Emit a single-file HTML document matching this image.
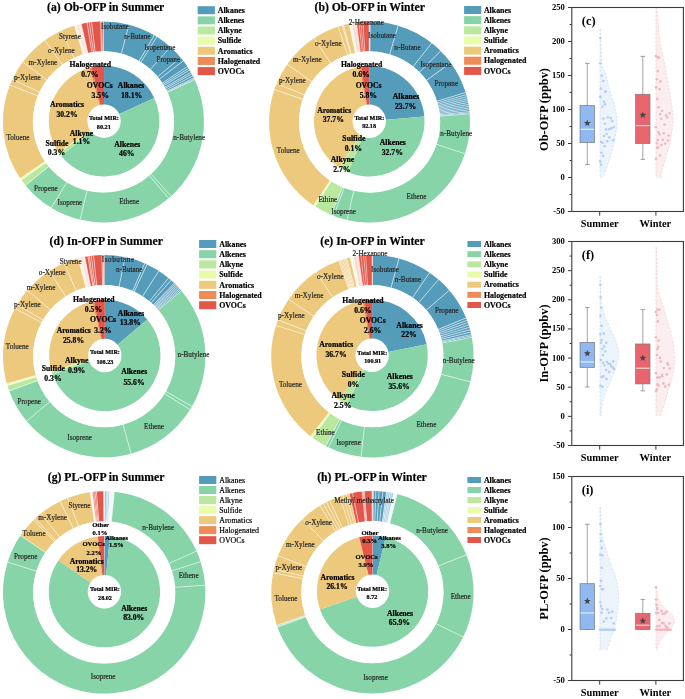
<!DOCTYPE html>
<html><head><meta charset="utf-8"><style>
html,body{margin:0;padding:0;background:#fff;}
svg{display:block;font-family:"Liberation Serif",serif;will-change:transform;}
</style></head><body>
<svg width="685" height="699" viewBox="0 0 685 699">
<rect width="685" height="699" fill="#fff"/>
<path d="M103.45 21.4A100.5 100.5 0 0 1 129.21 24.76L121.48 53.9A70.3515 70.3515 0 0 0 103.45 51.55Z" fill="#559cbb"/>
<path d="M128.95 24.69A100.5 100.5 0 0 1 154.53 35.35L139.21 61.31A70.3515 70.3515 0 0 0 121.3 53.85Z" fill="#559cbb"/>
<path d="M154.31 35.22A100.5 100.5 0 0 1 157.08 36.9L140.99 62.4A70.3515 70.3515 0 0 0 139.05 61.22Z" fill="#559cbb"/>
<path d="M156.86 36.76A100.5 100.5 0 0 1 170.63 47.16L150.48 69.58A70.3515 70.3515 0 0 0 140.83 62.3Z" fill="#559cbb"/>
<path d="M170.44 46.98A100.5 100.5 0 0 1 180.83 57.77L157.62 77.01A70.3515 70.3515 0 0 0 150.34 69.45Z" fill="#559cbb"/>
<path d="M180.66 57.57A100.5 100.5 0 0 1 183.45 61.07L159.45 79.32A70.3515 70.3515 0 0 0 157.5 76.87Z" fill="#559cbb"/>
<path d="M183.29 60.86A100.5 100.5 0 0 1 187.5 66.8L162.28 83.33A70.3515 70.3515 0 0 0 159.34 79.17Z" fill="#559cbb"/>
<path d="M187.35 66.58A100.5 100.5 0 0 1 188.63 68.57L163.08 84.57A70.3515 70.3515 0 0 0 162.18 83.17Z" fill="#559cbb"/>
<path d="M188.49 68.35A100.5 100.5 0 0 1 189.64 70.21L163.78 85.72A70.3515 70.3515 0 0 0 162.98 84.41Z" fill="#559cbb"/>
<path d="M189.5 69.99A100.5 100.5 0 0 1 191.05 72.64L164.77 87.42A70.3515 70.3515 0 0 0 163.69 85.56Z" fill="#559cbb"/>
<path d="M190.92 72.41A100.5 100.5 0 0 1 191.9 74.18L165.36 88.49A70.3515 70.3515 0 0 0 164.68 87.26Z" fill="#559cbb"/>
<path d="M191.77 73.95A100.5 100.5 0 0 1 192.96 76.2L166.11 89.91A70.3515 70.3515 0 0 0 165.28 88.33Z" fill="#559cbb"/>
<path d="M192.84 75.96A100.5 100.5 0 0 1 193.97 78.24L166.82 91.34A70.3515 70.3515 0 0 0 166.02 89.74Z" fill="#559cbb"/>
<path d="M193.86 78A100.5 100.5 0 0 1 194.42 79.19L167.13 92A70.3515 70.3515 0 0 0 166.74 91.17Z" fill="#559cbb"/>
<path d="M194.31 78.95A100.5 100.5 0 0 1 194.79 79.98L167.39 92.56A70.3515 70.3515 0 0 0 167.05 91.83Z" fill="#559cbb"/>
<path d="M194.68 79.75A100.5 100.5 0 0 1 171.02 196.29L150.75 173.98A70.3515 70.3515 0 0 0 167.31 92.39Z" fill="#86d4a7"/>
<path d="M171.22 196.11A100.5 100.5 0 0 1 168.52 198.49L149 175.52A70.3515 70.3515 0 0 0 150.89 173.85Z" fill="#86d4a7"/>
<path d="M168.72 198.32A100.5 100.5 0 0 1 79.9 219.6L86.97 190.29A70.3515 70.3515 0 0 0 149.14 175.4Z" fill="#86d4a7"/>
<path d="M80.16 219.66A100.5 100.5 0 0 1 51.16 207.73L66.85 181.98A70.3515 70.3515 0 0 0 87.15 190.34Z" fill="#86d4a7"/>
<path d="M51.39 207.86A100.5 100.5 0 0 1 25.4 185.21L48.82 166.22A70.3515 70.3515 0 0 0 67.01 182.08Z" fill="#86d4a7"/>
<path d="M25.57 185.42A100.5 100.5 0 0 1 21.28 179.76L45.93 162.4A70.3515 70.3515 0 0 0 48.93 166.36Z" fill="#bbe89f"/>
<path d="M21.43 179.97A100.5 100.5 0 0 1 20.18 178.17L45.16 161.29A70.3515 70.3515 0 0 0 46.03 162.55Z" fill="#e9fda9"/>
<path d="M20.33 178.39A100.5 100.5 0 0 1 10.04 84.82L38.06 95.94A70.3515 70.3515 0 0 0 45.26 161.44Z" fill="#ecc97d"/>
<path d="M9.94 85.07A100.5 100.5 0 0 1 12.48 79.19L39.77 92A70.3515 70.3515 0 0 0 37.99 96.12Z" fill="#ecc97d"/>
<path d="M12.37 79.43A100.5 100.5 0 0 1 22.92 61.77L47.08 79.81A70.3515 70.3515 0 0 0 39.69 92.17Z" fill="#ecc97d"/>
<path d="M22.77 61.98A100.5 100.5 0 0 1 45.02 40.13L62.55 64.66A70.3515 70.3515 0 0 0 46.97 79.95Z" fill="#ecc97d"/>
<path d="M44.8 40.29A100.5 100.5 0 0 1 61.69 30.49L74.22 57.91A70.3515 70.3515 0 0 0 62.4 64.77Z" fill="#ecc97d"/>
<path d="M61.45 30.59A100.5 100.5 0 0 1 74.82 25.56L83.41 54.46A70.3515 70.3515 0 0 0 74.05 57.99Z" fill="#ecc97d"/>
<path d="M74.57 25.64A100.5 100.5 0 0 1 77.35 24.85L85.18 53.96A70.3515 70.3515 0 0 0 83.23 54.52Z" fill="#fbf3e4"/>
<path d="M77.1 24.92A100.5 100.5 0 0 1 79.39 24.32L86.61 53.59A70.3515 70.3515 0 0 0 85 54.01Z" fill="#f9e4d8"/>
<path d="M79.14 24.39A100.5 100.5 0 0 1 81.44 23.84L88.04 53.26A70.3515 70.3515 0 0 0 86.43 53.64Z" fill="#fbede6"/>
<path d="M81.18 23.9A100.5 100.5 0 0 1 87.3 22.71L92.14 52.46A70.3515 70.3515 0 0 0 87.86 53.3Z" fill="#e2574a"/>
<path d="M87.04 22.75A100.5 100.5 0 0 1 89.55 22.37L93.72 52.22A70.3515 70.3515 0 0 0 91.96 52.49Z" fill="#e2574a"/>
<path d="M89.29 22.4A100.5 100.5 0 0 1 91.81 22.08L95.3 52.02A70.3515 70.3515 0 0 0 93.54 52.25Z" fill="#e2574a"/>
<path d="M91.55 22.11A100.5 100.5 0 0 1 100.91 21.43L101.67 51.57A70.3515 70.3515 0 0 0 95.12 52.04Z" fill="#e2574a"/>
<path d="M100.64 21.44A100.5 100.5 0 0 1 101.96 21.41L102.41 51.56A70.3515 70.3515 0 0 0 101.49 51.58Z" fill="#e2574a"/>
<path d="M101.7 21.42A100.5 100.5 0 0 1 103.71 21.4L103.63 51.55A70.3515 70.3515 0 0 0 102.22 51.56Z" fill="#e2574a"/>
<line x1="103.45" y1="52.25" x2="103.45" y2="20.4" stroke="#fff" stroke-width="0.6"/>
<line x1="121.12" y1="54.53" x2="129.21" y2="23.72" stroke="#fff" stroke-width="0.6"/>
<line x1="138.7" y1="61.82" x2="154.81" y2="34.35" stroke="#fff" stroke-width="0.6"/>
<line x1="140.46" y1="62.9" x2="157.39" y2="35.92" stroke="#fff" stroke-width="0.6"/>
<line x1="149.87" y1="69.98" x2="171.1" y2="46.23" stroke="#fff" stroke-width="0.6"/>
<line x1="156.96" y1="77.32" x2="181.43" y2="56.93" stroke="#fff" stroke-width="0.6"/>
<line x1="158.78" y1="79.6" x2="184.08" y2="60.25" stroke="#fff" stroke-width="0.6"/>
<line x1="161.6" y1="83.56" x2="188.19" y2="66.03" stroke="#fff" stroke-width="0.6"/>
<line x1="162.39" y1="84.78" x2="189.34" y2="67.81" stroke="#fff" stroke-width="0.6"/>
<line x1="163.09" y1="85.92" x2="190.36" y2="69.47" stroke="#fff" stroke-width="0.6"/>
<line x1="164.07" y1="87.6" x2="191.79" y2="71.92" stroke="#fff" stroke-width="0.6"/>
<line x1="164.66" y1="88.67" x2="192.65" y2="73.47" stroke="#fff" stroke-width="0.6"/>
<line x1="165.4" y1="90.06" x2="193.73" y2="75.5" stroke="#fff" stroke-width="0.6"/>
<line x1="166.11" y1="91.48" x2="194.76" y2="77.56" stroke="#fff" stroke-width="0.6"/>
<line x1="166.42" y1="92.13" x2="195.21" y2="78.52" stroke="#fff" stroke-width="0.6"/>
<line x1="166.68" y1="92.68" x2="195.59" y2="79.33" stroke="#fff" stroke-width="0.6"/>
<line x1="150.42" y1="173.33" x2="171.89" y2="196.85" stroke="#fff" stroke-width="0.6"/>
<line x1="148.69" y1="174.86" x2="169.37" y2="199.08" stroke="#fff" stroke-width="0.6"/>
<line x1="87.31" y1="189.66" x2="79.93" y2="220.64" stroke="#fff" stroke-width="0.6"/>
<line x1="67.37" y1="181.48" x2="50.87" y2="208.72" stroke="#fff" stroke-width="0.6"/>
<line x1="49.47" y1="165.92" x2="24.79" y2="186.05" stroke="#fff" stroke-width="0.6"/>
<line x1="46.6" y1="162.15" x2="20.61" y2="180.55" stroke="#fff" stroke-width="0.6"/>
<line x1="45.84" y1="161.05" x2="19.5" y2="178.95" stroke="#fff" stroke-width="0.6"/>
<line x1="38.65" y1="96.37" x2="9.01" y2="84.7" stroke="#fff" stroke-width="0.6"/>
<line x1="40.32" y1="92.46" x2="11.46" y2="79" stroke="#fff" stroke-width="0.6"/>
<line x1="47.53" y1="80.37" x2="21.96" y2="61.38" stroke="#fff" stroke-width="0.6"/>
<line x1="62.81" y1="65.34" x2="44.22" y2="39.47" stroke="#fff" stroke-width="0.6"/>
<line x1="74.34" y1="58.62" x2="61.04" y2="29.69" stroke="#fff" stroke-width="0.6"/>
<line x1="83.43" y1="55.19" x2="74.28" y2="24.68" stroke="#fff" stroke-width="0.6"/>
<line x1="88.02" y1="53.98" x2="80.96" y2="22.92" stroke="#fff" stroke-width="0.6"/>
<line x1="92.07" y1="53.18" x2="86.87" y2="21.76" stroke="#fff" stroke-width="0.6"/>
<line x1="93.64" y1="52.94" x2="89.15" y2="21.41" stroke="#fff" stroke-width="0.6"/>
<line x1="95.2" y1="52.74" x2="91.43" y2="21.11" stroke="#fff" stroke-width="0.6"/>
<line x1="101.51" y1="52.28" x2="100.62" y2="20.44" stroke="#fff" stroke-width="0.6"/>
<line x1="102.23" y1="52.26" x2="101.68" y2="20.42" stroke="#fff" stroke-width="0.6"/>
<circle cx="103.45" cy="121.9" r="70.6515" fill="#fff"/>
<path d="M104.05 121.1L104.05 65.83A55.275000000000006 55.275000000000006 0 0 1 154.23 97.91Z" fill="#559cbb"/>
<path d="M104.05 121.1L154.23 97.91A55.275000000000006 55.275000000000006 0 0 1 61.21 156.04Z" fill="#86d4a7"/>
<path d="M104.05 121.1L61.21 156.04A55.275000000000006 55.275000000000006 0 0 1 58.94 153.04Z" fill="#bbe89f"/>
<path d="M104.05 121.1L58.94 153.04A55.275000000000006 55.275000000000006 0 0 1 58.33 152.17Z" fill="#e9fda9"/>
<path d="M104.05 121.1L58.33 152.17A55.275000000000006 55.275000000000006 0 0 1 89.28 67.84Z" fill="#ecc97d"/>
<path d="M104.05 121.1L89.28 67.84A55.275000000000006 55.275000000000006 0 0 1 91.62 67.24Z" fill="#ed8c58"/>
<path d="M104.05 121.1L91.62 67.24A55.275000000000006 55.275000000000006 0 0 1 104.05 65.83Z" fill="#e2574a"/>
<circle cx="104.05" cy="121.1" r="16.7" fill="#fff"/>
<text x="115" y="28.75" font-size="7.2" text-anchor="middle" fill="#262626" stroke="#262626" stroke-width="0.18">Isobutane</text>
<text x="137.4" y="39.25" font-size="7.2" text-anchor="middle" fill="#262626" stroke="#262626" stroke-width="0.18">n-Butane</text>
<text x="159.8" y="50.45" font-size="7.2" text-anchor="middle" fill="#262626" stroke="#262626" stroke-width="0.18">Isopentane</text>
<text x="168.3" y="62.45" font-size="7.2" text-anchor="middle" fill="#262626" stroke="#262626" stroke-width="0.18">Propane</text>
<text x="189.2" y="140.25" font-size="7.2" text-anchor="middle" fill="#262626" stroke="#262626" stroke-width="0.18">n-Butylene</text>
<text x="129.2" y="204.45" font-size="7.2" text-anchor="middle" fill="#262626" stroke="#262626" stroke-width="0.18">Ethene</text>
<text x="69.9" y="205.25" font-size="7.2" text-anchor="middle" fill="#262626" stroke="#262626" stroke-width="0.18">Isoprene</text>
<text x="45.9" y="190.85" font-size="7.2" text-anchor="middle" fill="#262626" stroke="#262626" stroke-width="0.18">Propene</text>
<text x="17.9" y="139.95" font-size="7.2" text-anchor="middle" fill="#262626" stroke="#262626" stroke-width="0.18">Toluene</text>
<text x="27.3" y="80.15" font-size="7.2" text-anchor="middle" fill="#262626" stroke="#262626" stroke-width="0.18">p-Xylene</text>
<text x="42.8" y="64.95" font-size="7.2" text-anchor="middle" fill="#262626" stroke="#262626" stroke-width="0.18">m-Xylene</text>
<text x="61.3" y="52.85" font-size="7.2" text-anchor="middle" fill="#262626" stroke="#262626" stroke-width="0.18">o-Xylene</text>
<text x="69.9" y="39.25" font-size="7.2" text-anchor="middle" fill="#262626" stroke="#262626" stroke-width="0.18">Styrene</text>
<text x="90.3" y="66.7" font-size="7.7" font-weight="bold" text-anchor="middle" fill="#000" stroke="#000" stroke-width="0.22">Halogenated</text>
<text x="89.8" y="76.7" font-size="7.7" font-weight="bold" text-anchor="middle" fill="#000" stroke="#000" stroke-width="0.22">0.7%</text>
<text x="99.8" y="88.1" font-size="7.7" font-weight="bold" text-anchor="middle" fill="#000" stroke="#000" stroke-width="0.22">OVOCs</text>
<text x="100.2" y="97.6" font-size="7.7" font-weight="bold" text-anchor="middle" fill="#000" stroke="#000" stroke-width="0.22">3.5%</text>
<text x="131.1" y="88.1" font-size="7.7" font-weight="bold" text-anchor="middle" fill="#000" stroke="#000" stroke-width="0.22">Alkanes</text>
<text x="131.6" y="97.6" font-size="7.7" font-weight="bold" text-anchor="middle" fill="#000" stroke="#000" stroke-width="0.22">18.1%</text>
<text x="67" y="107.1" font-size="7.7" font-weight="bold" text-anchor="middle" fill="#000" stroke="#000" stroke-width="0.22">Aromatics</text>
<text x="67" y="116.6" font-size="7.7" font-weight="bold" text-anchor="middle" fill="#000" stroke="#000" stroke-width="0.22">30.2%</text>
<text x="81.5" y="135.6" font-size="7.7" font-weight="bold" text-anchor="middle" fill="#000" stroke="#000" stroke-width="0.22">Alkyne</text>
<text x="81.5" y="144.1" font-size="7.7" font-weight="bold" text-anchor="middle" fill="#000" stroke="#000" stroke-width="0.22">1.1%</text>
<text x="57" y="145.6" font-size="7.7" font-weight="bold" text-anchor="middle" fill="#000" stroke="#000" stroke-width="0.22">Sulfide</text>
<text x="56.5" y="154.9" font-size="7.7" font-weight="bold" text-anchor="middle" fill="#000" stroke="#000" stroke-width="0.22">0.3%</text>
<text x="127.3" y="147" font-size="7.7" font-weight="bold" text-anchor="middle" fill="#000" stroke="#000" stroke-width="0.22">Alkenes</text>
<text x="126.8" y="156.4" font-size="7.7" font-weight="bold" text-anchor="middle" fill="#000" stroke="#000" stroke-width="0.22">46%</text>
<text x="104" y="119.9" font-size="6.2" font-weight="bold" text-anchor="middle" fill="#000" stroke="#000" stroke-width="0.22">Total MIR:</text>
<text x="103.8" y="129.3" font-size="6.2" font-weight="bold" text-anchor="middle" fill="#000" stroke="#000" stroke-width="0.22">80.21</text>
<text x="105.7" y="11.2" font-size="11.7" font-weight="bold" text-anchor="middle" fill="#000" stroke="#000" stroke-width="0.2">(a) Ob-OFP in Summer</text>
<rect x="197.7" y="6.2" width="17.2" height="8" fill="#559cbb"/>
<text x="217.7" y="12.9" font-size="7.9" font-weight="bold" text-anchor="start" fill="#000" stroke="#000" stroke-width="0.18">Alkanes</text>
<rect x="197.7" y="16.35" width="17.2" height="8" fill="#86d4a7"/>
<text x="217.7" y="23.05" font-size="7.9" font-weight="bold" text-anchor="start" fill="#000" stroke="#000" stroke-width="0.18">Alkenes</text>
<rect x="197.7" y="26.5" width="17.2" height="8" fill="#bbe89f"/>
<text x="217.7" y="33.2" font-size="7.9" font-weight="bold" text-anchor="start" fill="#000" stroke="#000" stroke-width="0.18">Alkyne</text>
<rect x="197.7" y="36.65" width="17.2" height="8" fill="#e9fda9"/>
<text x="217.7" y="43.35" font-size="7.9" font-weight="bold" text-anchor="start" fill="#000" stroke="#000" stroke-width="0.18">Sulfide</text>
<rect x="197.7" y="46.8" width="17.2" height="8" fill="#ecc97d"/>
<text x="217.7" y="53.5" font-size="7.9" font-weight="bold" text-anchor="start" fill="#000" stroke="#000" stroke-width="0.18">Aromatics</text>
<rect x="197.7" y="56.95" width="17.2" height="8" fill="#ed8c58"/>
<text x="217.7" y="63.65" font-size="7.9" font-weight="bold" text-anchor="start" fill="#000" stroke="#000" stroke-width="0.18">Halogenated</text>
<rect x="197.7" y="67.1" width="17.2" height="8" fill="#e2574a"/>
<text x="217.7" y="73.8" font-size="7.9" font-weight="bold" text-anchor="start" fill="#000" stroke="#000" stroke-width="0.18">OVOCs</text>
<path d="M370.1 21.5A100.5 100.5 0 0 1 398.37 25.71L389.73 54.6A70.3515 70.3515 0 0 0 369.94 51.65Z" fill="#559cbb"/>
<path d="M398.11 25.64A100.5 100.5 0 0 1 431.93 43.18L413.22 66.83A70.3515 70.3515 0 0 0 389.55 54.55Z" fill="#559cbb"/>
<path d="M431.72 43.02A100.5 100.5 0 0 1 440.82 51.12L419.45 72.38A70.3515 70.3515 0 0 0 413.08 66.71Z" fill="#559cbb"/>
<path d="M440.63 50.94A100.5 100.5 0 0 1 450.82 62.86L426.45 80.6A70.3515 70.3515 0 0 0 419.32 72.25Z" fill="#559cbb"/>
<path d="M450.67 62.64A100.5 100.5 0 0 1 465.7 92.7L436.87 101.49A70.3515 70.3515 0 0 0 426.34 80.45Z" fill="#559cbb"/>
<path d="M465.63 92.45A100.5 100.5 0 0 1 466.34 94.89L437.31 103.02A70.3515 70.3515 0 0 0 436.81 101.31Z" fill="#559cbb"/>
<path d="M466.27 94.64A100.5 100.5 0 0 1 466.89 96.92L437.7 104.44A70.3515 70.3515 0 0 0 437.26 102.84Z" fill="#559cbb"/>
<path d="M466.82 96.67A100.5 100.5 0 0 1 467.39 98.97L438.05 105.88A70.3515 70.3515 0 0 0 437.65 104.27Z" fill="#559cbb"/>
<path d="M467.33 98.71A100.5 100.5 0 0 1 467.82 100.85L438.35 107.19A70.3515 70.3515 0 0 0 438.01 105.7Z" fill="#559cbb"/>
<path d="M467.76 100.59A100.5 100.5 0 0 1 468.21 102.74L438.62 108.52A70.3515 70.3515 0 0 0 438.31 107.01Z" fill="#559cbb"/>
<path d="M468.16 102.48A100.5 100.5 0 0 1 468.56 104.63L438.86 109.84A70.3515 70.3515 0 0 0 438.58 108.34Z" fill="#559cbb"/>
<path d="M468.51 104.38A100.5 100.5 0 0 1 468.87 106.54L439.08 111.18A70.3515 70.3515 0 0 0 438.83 109.66Z" fill="#559cbb"/>
<path d="M468.83 106.28A100.5 100.5 0 0 1 469.13 108.27L439.26 112.39A70.3515 70.3515 0 0 0 439.06 110.99Z" fill="#559cbb"/>
<path d="M469.09 108.01A100.5 100.5 0 0 1 469.35 110.01L439.42 113.61A70.3515 70.3515 0 0 0 439.24 112.21Z" fill="#559cbb"/>
<path d="M469.32 109.75A100.5 100.5 0 0 1 469.55 111.76L439.56 114.83A70.3515 70.3515 0 0 0 439.4 113.43Z" fill="#559cbb"/>
<path d="M469.52 111.49A100.5 100.5 0 0 1 469.66 112.98L439.64 115.69A70.3515 70.3515 0 0 0 439.54 114.65Z" fill="#559cbb"/>
<path d="M469.64 112.72A100.5 100.5 0 0 1 469.75 114.03L439.7 116.42A70.3515 70.3515 0 0 0 439.62 115.5Z" fill="#559cbb"/>
<path d="M469.73 113.77A100.5 100.5 0 0 1 464.85 153.97L436.27 144.38A70.3515 70.3515 0 0 0 439.68 116.24Z" fill="#86d4a7"/>
<path d="M464.93 153.72A100.5 100.5 0 0 1 346.88 219.9L353.68 190.53A70.3515 70.3515 0 0 0 436.32 144.21Z" fill="#86d4a7"/>
<path d="M347.13 219.96A100.5 100.5 0 0 1 333.31 215.73L344.19 187.61A70.3515 70.3515 0 0 0 353.86 190.58Z" fill="#86d4a7"/>
<path d="M333.55 215.82A100.5 100.5 0 0 1 330.87 214.75L342.48 186.93A70.3515 70.3515 0 0 0 344.36 187.68Z" fill="#86d4a7"/>
<path d="M331.11 214.85A100.5 100.5 0 0 1 314.91 206.33L331.31 181.04A70.3515 70.3515 0 0 0 342.65 187Z" fill="#bbe89f"/>
<path d="M315.13 206.48A100.5 100.5 0 0 1 313.3 205.27L330.18 180.29A70.3515 70.3515 0 0 0 331.46 181.14Z" fill="#e9fda9"/>
<path d="M313.52 205.42A100.5 100.5 0 0 1 274.52 89.36L303.03 99.15A70.3515 70.3515 0 0 0 330.33 180.39Z" fill="#ecc97d"/>
<path d="M274.43 89.61A100.5 100.5 0 0 1 276.82 83.3L304.64 94.91A70.3515 70.3515 0 0 0 302.97 99.33Z" fill="#ecc97d"/>
<path d="M276.72 83.54A100.5 100.5 0 0 1 287.4 64.14L312.05 81.5A70.3515 70.3515 0 0 0 304.57 95.08Z" fill="#ecc97d"/>
<path d="M287.25 64.36A100.5 100.5 0 0 1 314.32 38.05L330.89 63.23A70.3515 70.3515 0 0 0 311.94 81.65Z" fill="#ecc97d"/>
<path d="M314.1 38.19A100.5 100.5 0 0 1 338.43 26.45L347.77 55.11A70.3515 70.3515 0 0 0 330.74 63.33Z" fill="#ecc97d"/>
<path d="M338.18 26.53A100.5 100.5 0 0 1 342.46 25.23L350.59 54.26A70.3515 70.3515 0 0 0 347.6 55.17Z" fill="#ecc97d"/>
<path d="M342.21 25.3A100.5 100.5 0 0 1 343.64 24.9L351.42 54.03A70.3515 70.3515 0 0 0 350.41 54.31Z" fill="#ecc97d"/>
<path d="M343.39 24.97A100.5 100.5 0 0 1 349.45 23.54L355.48 53.07A70.3515 70.3515 0 0 0 351.24 54.08Z" fill="#ecc97d"/>
<path d="M349.19 23.59A100.5 100.5 0 0 1 352.38 22.98L357.54 52.69A70.3515 70.3515 0 0 0 355.3 53.11Z" fill="#fdf8f0"/>
<path d="M352.12 23.03A100.5 100.5 0 0 1 354.45 22.64L358.99 52.45A70.3515 70.3515 0 0 0 357.35 52.72Z" fill="#f8dccb"/>
<path d="M354.19 22.68A100.5 100.5 0 0 1 356.71 22.33L360.57 52.23A70.3515 70.3515 0 0 0 358.81 52.48Z" fill="#fae4df"/>
<path d="M356.45 22.36A100.5 100.5 0 0 1 359.15 22.04L362.28 52.03A70.3515 70.3515 0 0 0 360.39 52.25Z" fill="#e2574a"/>
<path d="M358.89 22.07A100.5 100.5 0 0 1 361.07 21.86L363.62 51.9A70.3515 70.3515 0 0 0 362.09 52.05Z" fill="#e2574a"/>
<path d="M360.81 21.88A100.5 100.5 0 0 1 363.17 21.7L365.09 51.79A70.3515 70.3515 0 0 0 363.44 51.92Z" fill="#e2574a"/>
<path d="M362.91 21.72A100.5 100.5 0 0 1 369.31 21.5L369.39 51.65A70.3515 70.3515 0 0 0 364.91 51.8Z" fill="#e2574a"/>
<line x1="369.93" y1="52.35" x2="370.1" y2="20.5" stroke="#fff" stroke-width="0.6"/>
<line x1="389.35" y1="55.22" x2="398.4" y2="24.68" stroke="#fff" stroke-width="0.6"/>
<line x1="412.64" y1="67.26" x2="432.34" y2="42.24" stroke="#fff" stroke-width="0.6"/>
<line x1="418.82" y1="72.75" x2="441.34" y2="50.23" stroke="#fff" stroke-width="0.6"/>
<line x1="425.78" y1="80.86" x2="451.48" y2="62.05" stroke="#fff" stroke-width="0.6"/>
<line x1="436.14" y1="101.52" x2="466.58" y2="92.15" stroke="#fff" stroke-width="0.6"/>
<line x1="436.59" y1="103.04" x2="467.24" y2="94.36" stroke="#fff" stroke-width="0.6"/>
<line x1="436.97" y1="104.44" x2="467.79" y2="96.41" stroke="#fff" stroke-width="0.6"/>
<line x1="437.33" y1="105.86" x2="468.31" y2="98.48" stroke="#fff" stroke-width="0.6"/>
<line x1="437.62" y1="107.16" x2="468.74" y2="100.38" stroke="#fff" stroke-width="0.6"/>
<line x1="437.89" y1="108.47" x2="469.14" y2="102.29" stroke="#fff" stroke-width="0.6"/>
<line x1="438.14" y1="109.79" x2="469.5" y2="104.2" stroke="#fff" stroke-width="0.6"/>
<line x1="438.36" y1="111.1" x2="469.82" y2="106.12" stroke="#fff" stroke-width="0.6"/>
<line x1="438.54" y1="112.31" x2="470.08" y2="107.87" stroke="#fff" stroke-width="0.6"/>
<line x1="438.7" y1="113.51" x2="470.31" y2="109.63" stroke="#fff" stroke-width="0.6"/>
<line x1="438.84" y1="114.72" x2="470.51" y2="111.39" stroke="#fff" stroke-width="0.6"/>
<line x1="438.92" y1="115.57" x2="470.64" y2="112.62" stroke="#fff" stroke-width="0.6"/>
<line x1="438.99" y1="116.29" x2="470.73" y2="113.68" stroke="#fff" stroke-width="0.6"/>
<line x1="435.66" y1="143.99" x2="465.88" y2="154.04" stroke="#fff" stroke-width="0.6"/>
<line x1="354.02" y1="189.89" x2="346.91" y2="220.94" stroke="#fff" stroke-width="0.6"/>
<line x1="344.61" y1="187.03" x2="333.2" y2="216.76" stroke="#fff" stroke-width="0.6"/>
<line x1="342.92" y1="186.35" x2="330.73" y2="215.77" stroke="#fff" stroke-width="0.6"/>
<line x1="331.84" y1="180.55" x2="314.59" y2="207.32" stroke="#fff" stroke-width="0.6"/>
<line x1="330.72" y1="179.81" x2="312.96" y2="206.25" stroke="#fff" stroke-width="0.6"/>
<line x1="303.63" y1="99.55" x2="273.49" y2="89.29" stroke="#fff" stroke-width="0.6"/>
<line x1="305.22" y1="95.35" x2="275.8" y2="83.16" stroke="#fff" stroke-width="0.6"/>
<line x1="312.51" y1="82.05" x2="286.43" y2="63.78" stroke="#fff" stroke-width="0.6"/>
<line x1="331.13" y1="63.92" x2="313.55" y2="37.36" stroke="#fff" stroke-width="0.6"/>
<line x1="347.82" y1="55.83" x2="337.87" y2="25.58" stroke="#fff" stroke-width="0.6"/>
<line x1="350.61" y1="54.98" x2="341.93" y2="24.33" stroke="#fff" stroke-width="0.6"/>
<line x1="351.43" y1="54.75" x2="343.13" y2="24" stroke="#fff" stroke-width="0.6"/>
<line x1="355.45" y1="53.8" x2="348.99" y2="22.61" stroke="#fff" stroke-width="0.6"/>
<line x1="360.48" y1="52.94" x2="356.32" y2="21.37" stroke="#fff" stroke-width="0.45"/>
<line x1="362.17" y1="52.74" x2="358.78" y2="21.07" stroke="#fff" stroke-width="0.45"/>
<line x1="363.5" y1="52.61" x2="360.72" y2="20.89" stroke="#fff" stroke-width="0.45"/>
<line x1="364.95" y1="52.5" x2="362.84" y2="20.72" stroke="#fff" stroke-width="0.45"/>
<line x1="369.21" y1="52.35" x2="369.04" y2="20.5" stroke="#fff" stroke-width="0.45"/>
<circle cx="369.57" cy="122" r="70.6515" fill="#fff"/>
<path d="M369.27 121.2L369.27 65.92A55.275000000000006 55.275000000000006 0 0 1 424.33 116.38Z" fill="#559cbb"/>
<path d="M369.27 121.2L424.33 116.38A55.275000000000006 55.275000000000006 0 0 1 348.12 172.27Z" fill="#86d4a7"/>
<path d="M369.27 121.2L348.12 172.27A55.275000000000006 55.275000000000006 0 0 1 339.33 167.66Z" fill="#bbe89f"/>
<path d="M369.27 121.2L339.33 167.66A55.275000000000006 55.275000000000006 0 0 1 338.92 167.4Z" fill="#e9fda9"/>
<path d="M369.27 121.2L338.92 167.4A55.275000000000006 55.275000000000006 0 0 1 359.48 66.8Z" fill="#ecc97d"/>
<path d="M369.27 121.2L359.48 66.8A55.275000000000006 55.275000000000006 0 0 1 361.1 66.53Z" fill="#ed8c58"/>
<path d="M369.27 121.2L361.1 66.53A55.275000000000006 55.275000000000006 0 0 1 369.27 65.92Z" fill="#e2574a"/>
<circle cx="369.27" cy="121.2" r="16.7" fill="#fff"/>
<text x="366.3" y="24.75" font-size="7.2" text-anchor="middle" fill="#262626" stroke="#262626" stroke-width="0.18">2-Hexanone</text>
<text x="382" y="37.85" font-size="7.2" text-anchor="middle" fill="#262626" stroke="#262626" stroke-width="0.18">Isobutane</text>
<text x="407.5" y="49.65" font-size="7.2" text-anchor="middle" fill="#262626" stroke="#262626" stroke-width="0.18">n-Butane</text>
<text x="436" y="67.35" font-size="7.2" text-anchor="middle" fill="#262626" stroke="#262626" stroke-width="0.18">Isopentane</text>
<text x="446.3" y="85.75" font-size="7.2" text-anchor="middle" fill="#262626" stroke="#262626" stroke-width="0.18">Propane</text>
<text x="456.3" y="135.75" font-size="7.2" text-anchor="middle" fill="#262626" stroke="#262626" stroke-width="0.18">n-Butylene</text>
<text x="416.6" y="198.55" font-size="7.2" text-anchor="middle" fill="#262626" stroke="#262626" stroke-width="0.18">Ethene</text>
<text x="343.7" y="213.75" font-size="7.2" text-anchor="middle" fill="#262626" stroke="#262626" stroke-width="0.18">Isoprene</text>
<text x="327.8" y="201.55" font-size="7.2" text-anchor="middle" fill="#262626" stroke="#262626" stroke-width="0.18">Ethine</text>
<text x="288.3" y="152.75" font-size="7.2" text-anchor="middle" fill="#262626" stroke="#262626" stroke-width="0.18">Toluene</text>
<text x="292.3" y="83.35" font-size="7.2" text-anchor="middle" fill="#262626" stroke="#262626" stroke-width="0.18">p-Xylene</text>
<text x="307.3" y="62.45" font-size="7.2" text-anchor="middle" fill="#262626" stroke="#262626" stroke-width="0.18">m-Xylene</text>
<text x="328.3" y="46.45" font-size="7.2" text-anchor="middle" fill="#262626" stroke="#262626" stroke-width="0.18">o-Xylene</text>
<text x="361.6" y="66.6" font-size="7.7" font-weight="bold" text-anchor="middle" fill="#000" stroke="#000" stroke-width="0.22">Halogenated</text>
<text x="361.1" y="76.7" font-size="7.7" font-weight="bold" text-anchor="middle" fill="#000" stroke="#000" stroke-width="0.22">0.6%</text>
<text x="368.6" y="87.7" font-size="7.7" font-weight="bold" text-anchor="middle" fill="#000" stroke="#000" stroke-width="0.22">OVOCs</text>
<text x="368.4" y="97.6" font-size="7.7" font-weight="bold" text-anchor="middle" fill="#000" stroke="#000" stroke-width="0.22">5.8%</text>
<text x="406" y="99.1" font-size="7.7" font-weight="bold" text-anchor="middle" fill="#000" stroke="#000" stroke-width="0.22">Alkanes</text>
<text x="405.6" y="109" font-size="7.7" font-weight="bold" text-anchor="middle" fill="#000" stroke="#000" stroke-width="0.22">23.7%</text>
<text x="334.2" y="112.8" font-size="7.7" font-weight="bold" text-anchor="middle" fill="#000" stroke="#000" stroke-width="0.22">Aromatics</text>
<text x="333.3" y="122.3" font-size="7.7" font-weight="bold" text-anchor="middle" fill="#000" stroke="#000" stroke-width="0.22">37.7%</text>
<text x="353.9" y="140.9" font-size="7.7" font-weight="bold" text-anchor="middle" fill="#000" stroke="#000" stroke-width="0.22">Sulfide</text>
<text x="353.4" y="150.7" font-size="7.7" font-weight="bold" text-anchor="middle" fill="#000" stroke="#000" stroke-width="0.22">0.1%</text>
<text x="392.8" y="145.1" font-size="7.7" font-weight="bold" text-anchor="middle" fill="#000" stroke="#000" stroke-width="0.22">Alkenes</text>
<text x="392.3" y="154.6" font-size="7.7" font-weight="bold" text-anchor="middle" fill="#000" stroke="#000" stroke-width="0.22">32.7%</text>
<text x="342.5" y="162.1" font-size="7.7" font-weight="bold" text-anchor="middle" fill="#000" stroke="#000" stroke-width="0.22">Alkyne</text>
<text x="341.8" y="171.6" font-size="7.7" font-weight="bold" text-anchor="middle" fill="#000" stroke="#000" stroke-width="0.22">2.7%</text>
<text x="369.4" y="119.9" font-size="6.2" font-weight="bold" text-anchor="middle" fill="#000" stroke="#000" stroke-width="0.22">Total MIR:</text>
<text x="369.1" y="128.2" font-size="6.2" font-weight="bold" text-anchor="middle" fill="#000" stroke="#000" stroke-width="0.22">92.18</text>
<text x="369.7" y="11.2" font-size="11.7" font-weight="bold" text-anchor="middle" fill="#000" stroke="#000" stroke-width="0.2">(b) Ob-OFP in Winter</text>
<rect x="464.1" y="6" width="17.2" height="8" fill="#559cbb"/>
<text x="483.9" y="12.7" font-size="7.9" font-weight="bold" text-anchor="start" fill="#000" stroke="#000" stroke-width="0.18">Alkanes</text>
<rect x="464.1" y="16.15" width="17.2" height="8" fill="#86d4a7"/>
<text x="483.9" y="22.85" font-size="7.9" font-weight="bold" text-anchor="start" fill="#000" stroke="#000" stroke-width="0.18">Alkenes</text>
<rect x="464.1" y="26.3" width="17.2" height="8" fill="#bbe89f"/>
<text x="483.9" y="33" font-size="7.9" font-weight="bold" text-anchor="start" fill="#000" stroke="#000" stroke-width="0.18">Alkyne</text>
<rect x="464.1" y="36.45" width="17.2" height="8" fill="#e9fda9"/>
<text x="483.9" y="43.15" font-size="7.9" font-weight="bold" text-anchor="start" fill="#000" stroke="#000" stroke-width="0.18">Sulfide</text>
<rect x="464.1" y="46.6" width="17.2" height="8" fill="#ecc97d"/>
<text x="483.9" y="53.3" font-size="7.9" font-weight="bold" text-anchor="start" fill="#000" stroke="#000" stroke-width="0.18">Aromatics</text>
<rect x="464.1" y="56.75" width="17.2" height="8" fill="#ed8c58"/>
<text x="483.9" y="63.45" font-size="7.9" font-weight="bold" text-anchor="start" fill="#000" stroke="#000" stroke-width="0.18">Halogenated</text>
<rect x="464.1" y="66.9" width="17.2" height="8" fill="#e2574a"/>
<text x="483.9" y="73.6" font-size="7.9" font-weight="bold" text-anchor="start" fill="#000" stroke="#000" stroke-width="0.18">OVOCs</text>
<path d="M104.2 254.9A101.2 101.2 0 0 1 125.5 257.17L119.11 286.84A70.8436 70.8436 0 0 0 104.2 285.26Z" fill="#559cbb"/>
<path d="M125.24 257.11A101.2 101.2 0 0 1 144.96 263.47L132.73 291.26A70.8436 70.8436 0 0 0 118.93 286.8Z" fill="#559cbb"/>
<path d="M144.72 263.36A101.2 101.2 0 0 1 147.21 264.49L134.31 291.97A70.8436 70.8436 0 0 0 132.56 291.18Z" fill="#559cbb"/>
<path d="M146.97 264.38A101.2 101.2 0 0 1 159.1 271.08L142.63 296.58A70.8436 70.8436 0 0 0 134.14 291.89Z" fill="#559cbb"/>
<path d="M158.87 270.94A101.2 101.2 0 0 1 168.78 278.18L149.41 301.55A70.8436 70.8436 0 0 0 142.47 296.48Z" fill="#559cbb"/>
<path d="M168.57 278.01A101.2 101.2 0 0 1 171.32 280.36L151.19 303.08A70.8436 70.8436 0 0 0 149.26 301.44Z" fill="#559cbb"/>
<path d="M171.12 280.19A101.2 101.2 0 0 1 174.44 283.24L153.37 305.1A70.8436 70.8436 0 0 0 151.05 302.96Z" fill="#559cbb"/>
<path d="M174.24 283.06A101.2 101.2 0 0 1 175.37 284.15L154.02 305.73A70.8436 70.8436 0 0 0 153.23 304.97Z" fill="#559cbb"/>
<path d="M175.18 283.97A101.2 101.2 0 0 1 176.29 285.07L154.66 306.38A70.8436 70.8436 0 0 0 153.89 305.6Z" fill="#559cbb"/>
<path d="M176.1 284.89A101.2 101.2 0 0 1 177.2 286.01L155.3 307.03A70.8436 70.8436 0 0 0 154.53 306.25Z" fill="#559cbb"/>
<path d="M177.01 285.82A101.2 101.2 0 0 1 178.09 286.95L155.93 307.69A70.8436 70.8436 0 0 0 155.17 306.9Z" fill="#559cbb"/>
<path d="M177.91 286.76A101.2 101.2 0 0 1 178.98 287.91L156.55 308.36A70.8436 70.8436 0 0 0 155.8 307.56Z" fill="#559cbb"/>
<path d="M178.8 287.71A101.2 101.2 0 0 1 179.85 288.88L157.16 309.04A70.8436 70.8436 0 0 0 156.42 308.23Z" fill="#559cbb"/>
<path d="M179.67 288.68A101.2 101.2 0 0 1 180.71 289.86L157.76 309.73A70.8436 70.8436 0 0 0 157.03 308.9Z" fill="#559cbb"/>
<path d="M180.53 289.66A101.2 101.2 0 0 1 181.55 290.85L158.35 310.42A70.8436 70.8436 0 0 0 157.64 309.59Z" fill="#559cbb"/>
<path d="M181.38 290.64A101.2 101.2 0 0 1 191.89 406.62L165.58 391.47A70.8436 70.8436 0 0 0 158.23 310.28Z" fill="#86d4a7"/>
<path d="M192.02 406.39A101.2 101.2 0 0 1 189.98 409.8L164.25 393.69A70.8436 70.8436 0 0 0 165.68 391.31Z" fill="#86d4a7"/>
<path d="M190.12 409.58A101.2 101.2 0 0 1 130.82 453.74L122.83 424.45A70.8436 70.8436 0 0 0 164.34 393.54Z" fill="#86d4a7"/>
<path d="M131.07 453.67A101.2 101.2 0 0 1 26.51 420.95L49.81 401.5A70.8436 70.8436 0 0 0 123.01 424.4Z" fill="#86d4a7"/>
<path d="M26.68 421.15A101.2 101.2 0 0 1 9.13 390.8L37.65 380.39A70.8436 70.8436 0 0 0 49.93 401.64Z" fill="#86d4a7"/>
<path d="M9.22 391.04A101.2 101.2 0 0 1 7.29 385.27L36.36 376.52A70.8436 70.8436 0 0 0 37.71 380.56Z" fill="#bbe89f"/>
<path d="M7.37 385.52A101.2 101.2 0 0 1 6.75 383.4L35.98 375.21A70.8436 70.8436 0 0 0 36.42 376.69Z" fill="#e9fda9"/>
<path d="M6.82 383.65A101.2 101.2 0 0 1 15.05 308.2L41.79 322.57A70.8436 70.8436 0 0 0 36.03 375.39Z" fill="#ecc97d"/>
<path d="M14.93 308.43A101.2 101.2 0 0 1 17.14 304.51L43.25 319.98A70.8436 70.8436 0 0 0 41.71 322.73Z" fill="#ecc97d"/>
<path d="M17 304.74A101.2 101.2 0 0 1 27.53 290.04L50.53 309.86A70.8436 70.8436 0 0 0 43.16 320.14Z" fill="#ecc97d"/>
<path d="M27.36 290.24A101.2 101.2 0 0 1 49.6 270.89L65.98 296.45A70.8436 70.8436 0 0 0 50.41 310Z" fill="#ecc97d"/>
<path d="M49.38 271.03A101.2 101.2 0 0 1 64.41 263.05L76.35 290.96A70.8436 70.8436 0 0 0 65.82 296.55Z" fill="#ecc97d"/>
<path d="M64.17 263.15A101.2 101.2 0 0 1 78.43 258.23L86.16 287.59A70.8436 70.8436 0 0 0 76.18 291.03Z" fill="#ecc97d"/>
<path d="M78.18 258.3A101.2 101.2 0 0 1 81.52 257.47L88.32 287.06A70.8436 70.8436 0 0 0 85.98 287.64Z" fill="#fbf3e4"/>
<path d="M81.26 257.53A101.2 101.2 0 0 1 83.59 257.02L89.77 286.74A70.8436 70.8436 0 0 0 88.14 287.1Z" fill="#f9e4d8"/>
<path d="M83.33 257.07A101.2 101.2 0 0 1 84.98 256.74L90.74 286.55A70.8436 70.8436 0 0 0 89.59 286.78Z" fill="#fbede6"/>
<path d="M84.72 256.79A101.2 101.2 0 0 1 88.11 256.19L92.93 286.16A70.8436 70.8436 0 0 0 90.56 286.58Z" fill="#e2574a"/>
<path d="M87.85 256.23A101.2 101.2 0 0 1 89.5 255.97L93.91 286.01A70.8436 70.8436 0 0 0 92.75 286.19Z" fill="#e2574a"/>
<path d="M89.24 256.01A101.2 101.2 0 0 1 91.43 255.71L95.26 285.82A70.8436 70.8436 0 0 0 93.73 286.03Z" fill="#e2574a"/>
<path d="M91.17 255.74A101.2 101.2 0 0 1 93.71 255.45L96.86 285.64A70.8436 70.8436 0 0 0 95.08 285.85Z" fill="#e2574a"/>
<path d="M93.45 255.47A101.2 101.2 0 0 1 102.17 254.92L102.78 285.27A70.8436 70.8436 0 0 0 96.67 285.66Z" fill="#e2574a"/>
<path d="M101.9 254.93A101.2 101.2 0 0 1 103.58 254.9L103.77 285.26A70.8436 70.8436 0 0 0 102.59 285.27Z" fill="#e2574a"/>
<path d="M103.32 254.9A101.2 101.2 0 0 1 104.46 254.9L104.39 285.26A70.8436 70.8436 0 0 0 103.58 285.26Z" fill="#e2574a"/>
<line x1="104.2" y1="285.96" x2="104.2" y2="253.9" stroke="#fff" stroke-width="0.6"/>
<line x1="118.78" y1="287.49" x2="125.45" y2="256.13" stroke="#fff" stroke-width="0.6"/>
<line x1="132.28" y1="291.82" x2="145.12" y2="262.45" stroke="#fff" stroke-width="0.6"/>
<line x1="133.84" y1="292.53" x2="147.39" y2="263.48" stroke="#fff" stroke-width="0.6"/>
<line x1="142.09" y1="297.07" x2="159.41" y2="270.1" stroke="#fff" stroke-width="0.6"/>
<line x1="148.82" y1="301.98" x2="169.21" y2="277.24" stroke="#fff" stroke-width="0.6"/>
<line x1="150.59" y1="303.48" x2="171.79" y2="279.44" stroke="#fff" stroke-width="0.6"/>
<line x1="152.75" y1="305.47" x2="174.94" y2="282.34" stroke="#fff" stroke-width="0.6"/>
<line x1="153.4" y1="306.1" x2="175.88" y2="283.25" stroke="#fff" stroke-width="0.6"/>
<line x1="154.04" y1="306.74" x2="176.81" y2="284.18" stroke="#fff" stroke-width="0.6"/>
<line x1="154.67" y1="307.39" x2="177.73" y2="285.12" stroke="#fff" stroke-width="0.6"/>
<line x1="155.29" y1="308.04" x2="178.64" y2="286.07" stroke="#fff" stroke-width="0.6"/>
<line x1="155.9" y1="308.7" x2="179.53" y2="287.04" stroke="#fff" stroke-width="0.6"/>
<line x1="156.51" y1="309.37" x2="180.42" y2="288.01" stroke="#fff" stroke-width="0.6"/>
<line x1="157.11" y1="310.05" x2="181.29" y2="289" stroke="#fff" stroke-width="0.6"/>
<line x1="157.7" y1="310.73" x2="182.14" y2="290" stroke="#fff" stroke-width="0.6"/>
<line x1="165.07" y1="390.96" x2="192.89" y2="406.89" stroke="#fff" stroke-width="0.6"/>
<line x1="163.75" y1="393.17" x2="190.96" y2="410.11" stroke="#fff" stroke-width="0.6"/>
<line x1="122.83" y1="423.73" x2="131.34" y2="454.63" stroke="#fff" stroke-width="0.6"/>
<line x1="50.47" y1="401.19" x2="25.91" y2="421.79" stroke="#fff" stroke-width="0.6"/>
<line x1="38.37" y1="380.32" x2="8.29" y2="391.39" stroke="#fff" stroke-width="0.6"/>
<line x1="37.09" y1="376.49" x2="6.41" y2="385.81" stroke="#fff" stroke-width="0.6"/>
<line x1="36.71" y1="375.2" x2="5.86" y2="383.93" stroke="#fff" stroke-width="0.6"/>
<line x1="42.32" y1="323.06" x2="14.05" y2="307.96" stroke="#fff" stroke-width="0.6"/>
<line x1="43.76" y1="320.5" x2="16.14" y2="304.23" stroke="#fff" stroke-width="0.6"/>
<line x1="50.94" y1="310.45" x2="26.6" y2="289.59" stroke="#fff" stroke-width="0.6"/>
<line x1="66.2" y1="297.14" x2="48.84" y2="270.19" stroke="#fff" stroke-width="0.6"/>
<line x1="76.46" y1="291.68" x2="63.78" y2="262.23" stroke="#fff" stroke-width="0.6"/>
<line x1="86.16" y1="288.31" x2="77.92" y2="257.34" stroke="#fff" stroke-width="0.6"/>
<line x1="90.7" y1="287.27" x2="84.52" y2="255.81" stroke="#fff" stroke-width="0.6"/>
<line x1="92.86" y1="286.88" x2="87.68" y2="255.24" stroke="#fff" stroke-width="0.6"/>
<line x1="93.83" y1="286.73" x2="89.09" y2="255.02" stroke="#fff" stroke-width="0.6"/>
<line x1="95.17" y1="286.54" x2="91.04" y2="254.75" stroke="#fff" stroke-width="0.6"/>
<line x1="96.75" y1="286.35" x2="93.34" y2="254.48" stroke="#fff" stroke-width="0.6"/>
<line x1="102.61" y1="285.97" x2="101.88" y2="253.93" stroke="#fff" stroke-width="0.6"/>
<line x1="103.59" y1="285.96" x2="103.31" y2="253.9" stroke="#fff" stroke-width="0.6"/>
<circle cx="104.2" cy="356.1" r="71.14359999999999" fill="#fff"/>
<path d="M104.8 355.5L104.8 299.84A55.660000000000004 55.660000000000004 0 0 1 147.25 319.5Z" fill="#559cbb"/>
<path d="M104.8 355.5L147.25 319.5A55.660000000000004 55.660000000000004 0 1 1 52.56 374.72Z" fill="#86d4a7"/>
<path d="M104.8 355.5L52.56 374.72A55.660000000000004 55.660000000000004 0 0 1 51.54 371.68Z" fill="#bbe89f"/>
<path d="M104.8 355.5L51.54 371.68A55.660000000000004 55.660000000000004 0 0 1 51.24 370.66Z" fill="#e9fda9"/>
<path d="M104.8 355.5L51.24 370.66A55.660000000000004 55.660000000000004 0 0 1 92.37 301.24Z" fill="#ecc97d"/>
<path d="M104.8 355.5L92.37 301.24A55.660000000000004 55.660000000000004 0 0 1 94.08 300.88Z" fill="#ed8c58"/>
<path d="M104.8 355.5L94.08 300.88A55.660000000000004 55.660000000000004 0 0 1 104.8 299.84Z" fill="#e2574a"/>
<circle cx="104.8" cy="355.5" r="16.7" fill="#fff"/>
<text x="118.2" y="261.6" font-size="7.2" text-anchor="middle" fill="#262626" stroke="#262626" stroke-width="0.18" letter-spacing="0.55">Isobutane</text>
<text x="129.3" y="271.65" font-size="7.2" text-anchor="middle" fill="#262626" stroke="#262626" stroke-width="0.18">n-Butane</text>
<text x="193.5" y="356.95" font-size="7.2" text-anchor="middle" fill="#262626" stroke="#262626" stroke-width="0.18">n-Butylene</text>
<text x="154" y="429.05" font-size="7.2" text-anchor="middle" fill="#262626" stroke="#262626" stroke-width="0.18">Ethene</text>
<text x="79.7" y="440.25" font-size="7.2" text-anchor="middle" fill="#262626" stroke="#262626" stroke-width="0.18">Isoprene</text>
<text x="29.2" y="403.85" font-size="7.2" text-anchor="middle" fill="#262626" stroke="#262626" stroke-width="0.18">Propene</text>
<text x="17.3" y="349.45" font-size="7.2" text-anchor="middle" fill="#262626" stroke="#262626" stroke-width="0.18">Toluene</text>
<text x="27.3" y="306.95" font-size="7.2" text-anchor="middle" fill="#262626" stroke="#262626" stroke-width="0.18">p-Xylene</text>
<text x="41" y="290.05" font-size="7.2" text-anchor="middle" fill="#262626" stroke="#262626" stroke-width="0.18">m-Xylene</text>
<text x="52.2" y="274.85" font-size="7.2" text-anchor="middle" fill="#262626" stroke="#262626" stroke-width="0.18">o-Xylene</text>
<text x="70.7" y="264.35" font-size="7.2" text-anchor="middle" fill="#262626" stroke="#262626" stroke-width="0.18">Styrene</text>
<text x="93.8" y="302.2" font-size="7.7" font-weight="bold" text-anchor="middle" fill="#000" stroke="#000" stroke-width="0.22">Halogenated</text>
<text x="93.5" y="312.3" font-size="7.7" font-weight="bold" text-anchor="middle" fill="#000" stroke="#000" stroke-width="0.22">0.5%</text>
<text x="103" y="322.2" font-size="7.7" font-weight="bold" text-anchor="middle" fill="#000" stroke="#000" stroke-width="0.22">OVOCs</text>
<text x="102.9" y="332.6" font-size="7.7" font-weight="bold" text-anchor="middle" fill="#000" stroke="#000" stroke-width="0.22">3.2%</text>
<text x="131.1" y="315.6" font-size="7.7" font-weight="bold" text-anchor="middle" fill="#000" stroke="#000" stroke-width="0.22">Alkanes</text>
<text x="130.2" y="325" font-size="7.7" font-weight="bold" text-anchor="middle" fill="#000" stroke="#000" stroke-width="0.22">13.8%</text>
<text x="73.8" y="333.2" font-size="7.7" font-weight="bold" text-anchor="middle" fill="#000" stroke="#000" stroke-width="0.22">Aromatics</text>
<text x="73.5" y="342.7" font-size="7.7" font-weight="bold" text-anchor="middle" fill="#000" stroke="#000" stroke-width="0.22">25.8%</text>
<text x="76.7" y="363" font-size="7.7" font-weight="bold" text-anchor="middle" fill="#000" stroke="#000" stroke-width="0.22">Alkyne</text>
<text x="76.6" y="372.5" font-size="7.7" font-weight="bold" text-anchor="middle" fill="#000" stroke="#000" stroke-width="0.22">0.9%</text>
<text x="53.3" y="371.1" font-size="7.7" font-weight="bold" text-anchor="middle" fill="#000" stroke="#000" stroke-width="0.22">Sulfide</text>
<text x="53" y="381" font-size="7.7" font-weight="bold" text-anchor="middle" fill="#000" stroke="#000" stroke-width="0.22">0.3%</text>
<text x="134.2" y="374.4" font-size="7.7" font-weight="bold" text-anchor="middle" fill="#000" stroke="#000" stroke-width="0.22">Alkenes</text>
<text x="134" y="384.8" font-size="7.7" font-weight="bold" text-anchor="middle" fill="#000" stroke="#000" stroke-width="0.22">55.6%</text>
<text x="105" y="354.3" font-size="6.2" font-weight="bold" text-anchor="middle" fill="#000" stroke="#000" stroke-width="0.22">Total MIR:</text>
<text x="104.9" y="363.8" font-size="6.2" font-weight="bold" text-anchor="middle" fill="#000" stroke="#000" stroke-width="0.22">108.23</text>
<text x="106.2" y="244.9" font-size="11.7" font-weight="bold" text-anchor="middle" fill="#000" stroke="#000" stroke-width="0.2">(d) In-OFP in Summer</text>
<rect x="199.1" y="240" width="17.2" height="8" fill="#559cbb"/>
<text x="219.2" y="246.7" font-size="7.9" font-weight="bold" text-anchor="start" fill="#000" stroke="#000" stroke-width="0.18">Alkanes</text>
<rect x="199.1" y="250.2" width="17.2" height="8" fill="#86d4a7"/>
<text x="219.2" y="256.9" font-size="7.9" font-weight="bold" text-anchor="start" fill="#000" stroke="#000" stroke-width="0.18">Alkenes</text>
<rect x="199.1" y="260.4" width="17.2" height="8" fill="#bbe89f"/>
<text x="219.2" y="267.1" font-size="7.9" font-weight="bold" text-anchor="start" fill="#000" stroke="#000" stroke-width="0.18">Alkyne</text>
<rect x="199.1" y="270.6" width="17.2" height="8" fill="#e9fda9"/>
<text x="219.2" y="277.3" font-size="7.9" font-weight="bold" text-anchor="start" fill="#000" stroke="#000" stroke-width="0.18">Sulfide</text>
<rect x="199.1" y="280.8" width="17.2" height="8" fill="#ecc97d"/>
<text x="219.2" y="287.5" font-size="7.9" font-weight="bold" text-anchor="start" fill="#000" stroke="#000" stroke-width="0.18">Aromatics</text>
<rect x="199.1" y="291" width="17.2" height="8" fill="#ed8c58"/>
<text x="219.2" y="297.7" font-size="7.9" font-weight="bold" text-anchor="start" fill="#000" stroke="#000" stroke-width="0.18">Halogenated</text>
<rect x="199.1" y="301.2" width="17.2" height="8" fill="#e2574a"/>
<text x="219.2" y="307.9" font-size="7.9" font-weight="bold" text-anchor="start" fill="#000" stroke="#000" stroke-width="0.18">OVOCs</text>
<path d="M372.4 255A101.2 101.2 0 0 1 399.19 258.61L391.15 287.88A70.8436 70.8436 0 0 0 372.4 285.36Z" fill="#559cbb"/>
<path d="M398.93 258.54A101.2 101.2 0 0 1 429.79 272.85L412.58 297.85A70.8436 70.8436 0 0 0 390.97 287.83Z" fill="#559cbb"/>
<path d="M429.57 272.7A101.2 101.2 0 0 1 438.73 279.77L418.83 302.69A70.8436 70.8436 0 0 0 412.42 297.75Z" fill="#559cbb"/>
<path d="M438.53 279.59A101.2 101.2 0 0 1 449.41 290.54L426.31 310.24A70.8436 70.8436 0 0 0 418.69 302.57Z" fill="#559cbb"/>
<path d="M449.24 290.34A101.2 101.2 0 0 1 466.2 318.21L438.06 329.6A70.8436 70.8436 0 0 0 426.19 310.1Z" fill="#559cbb"/>
<path d="M466.1 317.96A101.2 101.2 0 0 1 467.1 320.51L438.69 331.22A70.8436 70.8436 0 0 0 437.99 329.43Z" fill="#559cbb"/>
<path d="M467 320.26A101.2 101.2 0 0 1 467.94 322.84L439.28 332.84A70.8436 70.8436 0 0 0 438.63 331.04Z" fill="#559cbb"/>
<path d="M467.85 322.59A101.2 101.2 0 0 1 468.73 325.18L439.83 334.48A70.8436 70.8436 0 0 0 439.22 332.67Z" fill="#559cbb"/>
<path d="M468.65 324.93A101.2 101.2 0 0 1 469.46 327.54L440.34 336.14A70.8436 70.8436 0 0 0 439.78 334.31Z" fill="#559cbb"/>
<path d="M469.38 327.29A101.2 101.2 0 0 1 470.13 329.92L440.81 337.8A70.8436 70.8436 0 0 0 440.29 335.96Z" fill="#559cbb"/>
<path d="M470.06 329.67A101.2 101.2 0 0 1 470.74 332.32L441.24 339.48A70.8436 70.8436 0 0 0 440.77 337.63Z" fill="#559cbb"/>
<path d="M470.68 332.06A101.2 101.2 0 0 1 471.3 334.73L441.63 341.17A70.8436 70.8436 0 0 0 441.2 339.3Z" fill="#559cbb"/>
<path d="M471.24 334.47A101.2 101.2 0 0 1 471.59 336.11L441.83 342.14A70.8436 70.8436 0 0 0 441.59 340.99Z" fill="#559cbb"/>
<path d="M471.53 335.85A101.2 101.2 0 0 1 471.86 337.5L442.02 343.11A70.8436 70.8436 0 0 0 441.8 341.95Z" fill="#559cbb"/>
<path d="M471.81 337.24A101.2 101.2 0 0 1 470.22 382.14L440.88 374.36A70.8436 70.8436 0 0 0 441.99 342.93Z" fill="#86d4a7"/>
<path d="M470.29 381.88A101.2 101.2 0 0 1 360.86 456.74L364.32 426.58A70.8436 70.8436 0 0 0 440.92 374.18Z" fill="#86d4a7"/>
<path d="M361.12 456.77A101.2 101.2 0 0 1 328.28 447.27L341.51 419.95A70.8436 70.8436 0 0 0 364.5 426.6Z" fill="#86d4a7"/>
<path d="M328.51 447.39A101.2 101.2 0 0 1 325.59 445.92L339.63 419.01A70.8436 70.8436 0 0 0 341.68 420.04Z" fill="#86d4a7"/>
<path d="M325.83 446.05A101.2 101.2 0 0 1 312.13 437.5L330.21 413.11A70.8436 70.8436 0 0 0 339.8 419.1Z" fill="#bbe89f"/>
<path d="M312.35 437.66A101.2 101.2 0 0 1 310.44 436.22L329.03 412.22A70.8436 70.8436 0 0 0 330.36 413.22Z" fill="#e9fda9"/>
<path d="M310.65 436.38A101.2 101.2 0 0 1 276.07 325.18L304.97 334.48A70.8436 70.8436 0 0 0 329.18 412.33Z" fill="#ecc97d"/>
<path d="M275.99 325.43A101.2 101.2 0 0 1 278.02 319.69L306.33 330.64A70.8436 70.8436 0 0 0 304.91 334.66Z" fill="#ecc97d"/>
<path d="M277.92 319.93A101.2 101.2 0 0 1 288.85 299.1L313.91 316.23A70.8436 70.8436 0 0 0 306.26 330.81Z" fill="#ecc97d"/>
<path d="M288.7 299.32A101.2 101.2 0 0 1 316.18 272.06L333.04 297.3A70.8436 70.8436 0 0 0 313.81 316.38Z" fill="#ecc97d"/>
<path d="M315.96 272.2A101.2 101.2 0 0 1 338.87 260.72L348.93 289.36A70.8436 70.8436 0 0 0 332.89 297.4Z" fill="#ecc97d"/>
<path d="M338.62 260.8A101.2 101.2 0 0 1 340.21 260.26L349.86 289.04A70.8436 70.8436 0 0 0 348.75 289.42Z" fill="#ecc97d"/>
<path d="M339.95 260.34A101.2 101.2 0 0 1 341.55 259.82L350.8 288.73A70.8436 70.8436 0 0 0 349.69 289.1Z" fill="#ecc97d"/>
<path d="M341.3 259.9A101.2 101.2 0 0 1 342.9 259.4L351.75 288.43A70.8436 70.8436 0 0 0 350.63 288.79Z" fill="#ecc97d"/>
<path d="M342.64 259.47A101.2 101.2 0 0 1 344.25 258.99L352.69 288.15A70.8436 70.8436 0 0 0 351.57 288.49Z" fill="#ecc97d"/>
<path d="M344 259.07A101.2 101.2 0 0 1 345.61 258.61L353.65 287.88A70.8436 70.8436 0 0 0 352.52 288.2Z" fill="#ecc97d"/>
<path d="M345.36 258.68A101.2 101.2 0 0 1 346.98 258.25L354.6 287.63A70.8436 70.8436 0 0 0 353.47 287.93Z" fill="#ecc97d"/>
<path d="M346.72 258.31A101.2 101.2 0 0 1 350.58 257.38L357.13 287.02A70.8436 70.8436 0 0 0 354.42 287.68Z" fill="#ecc97d"/>
<path d="M350.32 257.44A101.2 101.2 0 0 1 354.04 256.68L359.55 286.53A70.8436 70.8436 0 0 0 356.95 287.06Z" fill="#fdf8ef"/>
<path d="M353.78 256.73A101.2 101.2 0 0 1 356.48 256.26L361.26 286.24A70.8436 70.8436 0 0 0 359.37 286.57Z" fill="#f8dccb"/>
<path d="M356.22 256.3A101.2 101.2 0 0 1 358.75 255.92L362.85 286A70.8436 70.8436 0 0 0 361.07 286.27Z" fill="#fae4df"/>
<path d="M358.49 255.96A101.2 101.2 0 0 1 361.21 255.62L364.56 285.79A70.8436 70.8436 0 0 0 362.66 286.03Z" fill="#e2574a"/>
<path d="M360.94 255.65A101.2 101.2 0 0 1 363.84 255.36L366.41 285.61A70.8436 70.8436 0 0 0 364.38 285.81Z" fill="#e2574a"/>
<path d="M363.58 255.39A101.2 101.2 0 0 1 365.78 255.22L367.77 285.51A70.8436 70.8436 0 0 0 366.23 285.63Z" fill="#e2574a"/>
<path d="M365.52 255.23A101.2 101.2 0 0 1 372.49 255L372.46 285.36A70.8436 70.8436 0 0 0 367.58 285.52Z" fill="#e2574a"/>
<line x1="372.4" y1="286.06" x2="372.4" y2="254" stroke="#fff" stroke-width="0.6"/>
<line x1="390.79" y1="288.51" x2="399.2" y2="257.58" stroke="#fff" stroke-width="0.6"/>
<line x1="412.03" y1="298.32" x2="430.14" y2="271.87" stroke="#fff" stroke-width="0.6"/>
<line x1="418.23" y1="303.1" x2="439.18" y2="278.84" stroke="#fff" stroke-width="0.6"/>
<line x1="425.66" y1="310.55" x2="450" y2="289.69" stroke="#fff" stroke-width="0.6"/>
<line x1="437.34" y1="329.7" x2="467.02" y2="317.58" stroke="#fff" stroke-width="0.6"/>
<line x1="437.97" y1="331.29" x2="467.94" y2="319.91" stroke="#fff" stroke-width="0.6"/>
<line x1="438.56" y1="332.9" x2="468.8" y2="322.25" stroke="#fff" stroke-width="0.6"/>
<line x1="439.11" y1="334.52" x2="469.6" y2="324.62" stroke="#fff" stroke-width="0.6"/>
<line x1="439.62" y1="336.16" x2="470.34" y2="327" stroke="#fff" stroke-width="0.6"/>
<line x1="440.09" y1="337.81" x2="471.02" y2="329.4" stroke="#fff" stroke-width="0.6"/>
<line x1="440.52" y1="339.47" x2="471.65" y2="331.82" stroke="#fff" stroke-width="0.6"/>
<line x1="440.91" y1="341.14" x2="472.22" y2="334.25" stroke="#fff" stroke-width="0.6"/>
<line x1="441.11" y1="342.1" x2="472.51" y2="335.65" stroke="#fff" stroke-width="0.6"/>
<line x1="441.3" y1="343.06" x2="472.79" y2="337.05" stroke="#fff" stroke-width="0.6"/>
<line x1="440.25" y1="374" x2="471.25" y2="382.13" stroke="#fff" stroke-width="0.6"/>
<line x1="364.58" y1="425.91" x2="361.01" y2="457.76" stroke="#fff" stroke-width="0.6"/>
<line x1="341.98" y1="419.4" x2="328.08" y2="448.29" stroke="#fff" stroke-width="0.6"/>
<line x1="340.12" y1="418.47" x2="325.37" y2="446.93" stroke="#fff" stroke-width="0.6"/>
<line x1="330.78" y1="412.66" x2="311.75" y2="438.46" stroke="#fff" stroke-width="0.6"/>
<line x1="329.6" y1="411.77" x2="310.04" y2="437.17" stroke="#fff" stroke-width="0.6"/>
<line x1="305.58" y1="334.87" x2="275.04" y2="325.13" stroke="#fff" stroke-width="0.6"/>
<line x1="306.92" y1="331.06" x2="276.99" y2="319.57" stroke="#fff" stroke-width="0.6"/>
<line x1="314.39" y1="316.77" x2="287.87" y2="298.76" stroke="#fff" stroke-width="0.6"/>
<line x1="333.28" y1="297.98" x2="315.4" y2="271.37" stroke="#fff" stroke-width="0.6"/>
<line x1="348.99" y1="290.08" x2="338.28" y2="259.86" stroke="#fff" stroke-width="0.6"/>
<line x1="349.91" y1="289.76" x2="339.63" y2="259.4" stroke="#fff" stroke-width="0.6"/>
<line x1="350.84" y1="289.45" x2="340.99" y2="258.95" stroke="#fff" stroke-width="0.6"/>
<line x1="351.77" y1="289.16" x2="342.35" y2="258.52" stroke="#fff" stroke-width="0.6"/>
<line x1="352.71" y1="288.88" x2="343.72" y2="258.11" stroke="#fff" stroke-width="0.6"/>
<line x1="353.65" y1="288.61" x2="345.09" y2="257.72" stroke="#fff" stroke-width="0.6"/>
<line x1="354.6" y1="288.35" x2="346.47" y2="257.35" stroke="#fff" stroke-width="0.6"/>
<line x1="357.1" y1="287.75" x2="350.11" y2="256.46" stroke="#fff" stroke-width="0.6"/>
<line x1="362.76" y1="286.72" x2="358.35" y2="254.97" stroke="#fff" stroke-width="0.45"/>
<line x1="364.46" y1="286.51" x2="360.83" y2="254.66" stroke="#fff" stroke-width="0.45"/>
<line x1="366.29" y1="286.32" x2="363.49" y2="254.39" stroke="#fff" stroke-width="0.45"/>
<line x1="367.63" y1="286.22" x2="365.45" y2="254.24" stroke="#fff" stroke-width="0.45"/>
<line x1="372.28" y1="286.06" x2="372.22" y2="254" stroke="#fff" stroke-width="0.45"/>
<circle cx="372.4" cy="356.2" r="71.14359999999999" fill="#fff"/>
<path d="M372.1 355.3L372.1 299.64A55.660000000000004 55.660000000000004 0 0 1 426.64 344.2Z" fill="#559cbb"/>
<path d="M372.1 355.3L426.64 344.2A55.660000000000004 55.660000000000004 0 0 1 346.49 404.72Z" fill="#86d4a7"/>
<path d="M372.1 355.3L346.49 404.72A55.660000000000004 55.660000000000004 0 0 1 339.07 400.1Z" fill="#bbe89f"/>
<path d="M372.1 355.3L339.07 400.1A55.660000000000004 55.660000000000004 0 0 1 338.99 400.04Z" fill="#e9fda9"/>
<path d="M372.1 355.3L338.99 400.04A55.660000000000004 55.660000000000004 0 0 1 362.43 300.49Z" fill="#ecc97d"/>
<path d="M372.1 355.3L362.43 300.49A55.660000000000004 55.660000000000004 0 0 1 364.45 300.17Z" fill="#ed8c58"/>
<path d="M372.1 355.3L364.45 300.17A55.660000000000004 55.660000000000004 0 0 1 372.1 299.64Z" fill="#e2574a"/>
<circle cx="372.1" cy="355.3" r="16.7" fill="#fff"/>
<text x="370" y="256.45" font-size="7.2" text-anchor="middle" fill="#262626" stroke="#262626" stroke-width="0.18">2-Hexanone</text>
<text x="385" y="271.55" font-size="7.2" text-anchor="middle" fill="#262626" stroke="#262626" stroke-width="0.18">Isobutane</text>
<text x="408" y="282.05" font-size="7.2" text-anchor="middle" fill="#262626" stroke="#262626" stroke-width="0.18">n-Butane</text>
<text x="446.7" y="313.35" font-size="7.2" text-anchor="middle" fill="#262626" stroke="#262626" stroke-width="0.18">Propane</text>
<text x="458.8" y="363.15" font-size="7.2" text-anchor="middle" fill="#262626" stroke="#262626" stroke-width="0.18">n-Butylene</text>
<text x="426.4" y="426.65" font-size="7.2" text-anchor="middle" fill="#262626" stroke="#262626" stroke-width="0.18">Ethene</text>
<text x="348.5" y="445.05" font-size="7.2" text-anchor="middle" fill="#262626" stroke="#262626" stroke-width="0.18">Isoprene</text>
<text x="325.4" y="434.65" font-size="7.2" text-anchor="middle" fill="#262626" stroke="#262626" stroke-width="0.18">Ethine</text>
<text x="290.4" y="387.25" font-size="7.2" text-anchor="middle" fill="#262626" stroke="#262626" stroke-width="0.18">Toluene</text>
<text x="291.3" y="318.15" font-size="7.2" text-anchor="middle" fill="#262626" stroke="#262626" stroke-width="0.18">p-Xylene</text>
<text x="309" y="298.05" font-size="7.2" text-anchor="middle" fill="#262626" stroke="#262626" stroke-width="0.18">m-Xylene</text>
<text x="330.3" y="278.85" font-size="7.2" text-anchor="middle" fill="#262626" stroke="#262626" stroke-width="0.18">o-Xylene</text>
<text x="362.9" y="302.8" font-size="7.7" font-weight="bold" text-anchor="middle" fill="#000" stroke="#000" stroke-width="0.22">Halogenated</text>
<text x="362.8" y="312.7" font-size="7.7" font-weight="bold" text-anchor="middle" fill="#000" stroke="#000" stroke-width="0.22">0.6%</text>
<text x="372.7" y="322.7" font-size="7.7" font-weight="bold" text-anchor="middle" fill="#000" stroke="#000" stroke-width="0.22">OVOCs</text>
<text x="372.6" y="332.6" font-size="7.7" font-weight="bold" text-anchor="middle" fill="#000" stroke="#000" stroke-width="0.22">2.6%</text>
<text x="409.6" y="327.5" font-size="7.7" font-weight="bold" text-anchor="middle" fill="#000" stroke="#000" stroke-width="0.22">Alkanes</text>
<text x="409" y="337" font-size="7.7" font-weight="bold" text-anchor="middle" fill="#000" stroke="#000" stroke-width="0.22">22%</text>
<text x="336.3" y="346.8" font-size="7.7" font-weight="bold" text-anchor="middle" fill="#000" stroke="#000" stroke-width="0.22">Aromatics</text>
<text x="336" y="356.7" font-size="7.7" font-weight="bold" text-anchor="middle" fill="#000" stroke="#000" stroke-width="0.22">36.7%</text>
<text x="353.4" y="377.2" font-size="7.7" font-weight="bold" text-anchor="middle" fill="#000" stroke="#000" stroke-width="0.22">Sulfide</text>
<text x="353.4" y="387.1" font-size="7.7" font-weight="bold" text-anchor="middle" fill="#000" stroke="#000" stroke-width="0.22">0%</text>
<text x="399.8" y="379.1" font-size="7.7" font-weight="bold" text-anchor="middle" fill="#000" stroke="#000" stroke-width="0.22">Alkenes</text>
<text x="399.1" y="388.6" font-size="7.7" font-weight="bold" text-anchor="middle" fill="#000" stroke="#000" stroke-width="0.22">35.6%</text>
<text x="343.2" y="398.1" font-size="7.7" font-weight="bold" text-anchor="middle" fill="#000" stroke="#000" stroke-width="0.22">Alkyne</text>
<text x="342.7" y="408" font-size="7.7" font-weight="bold" text-anchor="middle" fill="#000" stroke="#000" stroke-width="0.22">2.5%</text>
<text x="372.3" y="354.9" font-size="6.2" font-weight="bold" text-anchor="middle" fill="#000" stroke="#000" stroke-width="0.22">Total MIR:</text>
<text x="372.7" y="362.8" font-size="6.2" font-weight="bold" text-anchor="middle" fill="#000" stroke="#000" stroke-width="0.22">100.91</text>
<text x="372.5" y="244.9" font-size="11.7" font-weight="bold" text-anchor="middle" fill="#000" stroke="#000" stroke-width="0.2">(e) In-OFP in Winter</text>
<rect x="467.4" y="241" width="13.6" height="6" fill="#559cbb"/>
<text x="483.9" y="246.7" font-size="7.9" font-weight="bold" text-anchor="start" fill="#000" stroke="#000" stroke-width="0.18">Alkanes</text>
<rect x="467.4" y="251.17" width="13.6" height="6" fill="#86d4a7"/>
<text x="483.9" y="256.87" font-size="7.9" font-weight="bold" text-anchor="start" fill="#000" stroke="#000" stroke-width="0.18">Alkenes</text>
<rect x="467.4" y="261.34" width="13.6" height="6" fill="#bbe89f"/>
<text x="483.9" y="267.04" font-size="7.9" font-weight="bold" text-anchor="start" fill="#000" stroke="#000" stroke-width="0.18">Alkyne</text>
<rect x="467.4" y="271.51" width="13.6" height="6" fill="#e9fda9"/>
<text x="483.9" y="277.21" font-size="7.9" font-weight="bold" text-anchor="start" fill="#000" stroke="#000" stroke-width="0.18">Sulfide</text>
<rect x="467.4" y="281.68" width="13.6" height="6" fill="#ecc97d"/>
<text x="483.9" y="287.38" font-size="7.9" font-weight="bold" text-anchor="start" fill="#000" stroke="#000" stroke-width="0.18">Aromatics</text>
<rect x="467.4" y="291.85" width="13.6" height="6" fill="#ed8c58"/>
<text x="483.9" y="297.55" font-size="7.9" font-weight="bold" text-anchor="start" fill="#000" stroke="#000" stroke-width="0.18">Halogenated</text>
<rect x="467.4" y="302.02" width="13.6" height="6" fill="#e2574a"/>
<text x="483.9" y="307.72" font-size="7.9" font-weight="bold" text-anchor="start" fill="#000" stroke="#000" stroke-width="0.18">OVOCs</text>
<path d="M104.55 491.2A101.2 101.2 0 0 1 106.94 491.24L106.12 521.58A70.8436 70.8436 0 0 0 104.45 521.56Z" fill="#9cc6dc"/>
<path d="M106.67 491.23A101.2 101.2 0 0 1 107.82 491.26L106.73 521.6A70.8436 70.8436 0 0 0 105.93 521.58Z" fill="#559cbb"/>
<path d="M107.56 491.26A101.2 101.2 0 0 1 108.79 491.3L107.41 521.63A70.8436 70.8436 0 0 0 106.55 521.6Z" fill="#b8d7e6"/>
<path d="M108.53 491.29A101.2 101.2 0 0 1 109.76 491.35L108.09 521.66A70.8436 70.8436 0 0 0 107.23 521.62Z" fill="#559cbb"/>
<path d="M109.5 491.34A101.2 101.2 0 0 1 114.6 491.74L111.48 521.93A70.8436 70.8436 0 0 0 107.91 521.65Z" fill="#f4f8fa"/>
<path d="M114.34 491.71A101.2 101.2 0 0 1 196.69 551.32L168.94 563.64A70.8436 70.8436 0 0 0 111.3 521.91Z" fill="#86d4a7"/>
<path d="M196.58 551.08A101.2 101.2 0 0 1 200.69 561.88L171.75 571.04A70.8436 70.8436 0 0 0 168.87 563.47Z" fill="#86d4a7"/>
<path d="M200.61 561.63A101.2 101.2 0 0 1 205.16 585.43L174.88 587.52A70.8436 70.8436 0 0 0 171.69 570.86Z" fill="#86d4a7"/>
<path d="M205.14 585.16A101.2 101.2 0 1 1 7.71 561.88L36.65 571.04A70.8436 70.8436 0 1 0 174.86 587.33Z" fill="#86d4a7"/>
<path d="M7.63 562.14A101.2 101.2 0 0 1 20.65 535.3L45.71 552.43A70.8436 70.8436 0 0 0 36.6 571.21Z" fill="#86d4a7"/>
<path d="M20.5 535.52A101.2 101.2 0 0 1 33.58 519.91L54.77 541.65A70.8436 70.8436 0 0 0 45.61 552.58Z" fill="#ecc97d"/>
<path d="M33.39 520.1A101.2 101.2 0 0 1 35.25 518.33L55.93 540.55A70.8436 70.8436 0 0 0 54.63 541.78Z" fill="#ecc97d"/>
<path d="M35.05 518.51A101.2 101.2 0 0 1 40.99 513.37L59.95 537.07A70.8436 70.8436 0 0 0 55.79 540.67Z" fill="#ecc97d"/>
<path d="M40.79 513.53A101.2 101.2 0 0 1 60.39 501.17L73.53 528.54A70.8436 70.8436 0 0 0 59.81 537.19Z" fill="#ecc97d"/>
<path d="M60.15 501.29A101.2 101.2 0 0 1 67.85 497.95L78.75 526.28A70.8436 70.8436 0 0 0 73.37 528.62Z" fill="#ecc97d"/>
<path d="M67.6 498.05A101.2 101.2 0 0 1 90.55 492.12L94.65 522.2A70.8436 70.8436 0 0 0 78.58 526.35Z" fill="#ecc97d"/>
<path d="M90.29 492.16A101.2 101.2 0 0 1 92.66 491.86L96.12 522.02A70.8436 70.8436 0 0 0 94.46 522.23Z" fill="#fbf3ea"/>
<path d="M92.39 491.89A101.2 101.2 0 0 1 93.89 491.73L96.98 521.93A70.8436 70.8436 0 0 0 95.93 522.04Z" fill="#e2574a"/>
<path d="M93.62 491.75A101.2 101.2 0 0 1 95.29 491.59L97.96 521.83A70.8436 70.8436 0 0 0 96.79 521.94Z" fill="#e2574a"/>
<path d="M95.03 491.62A101.2 101.2 0 0 1 96.7 491.48L98.95 521.75A70.8436 70.8436 0 0 0 97.78 521.85Z" fill="#e2574a"/>
<path d="M96.44 491.5A101.2 101.2 0 0 1 103.85 491.2L103.95 521.56A70.8436 70.8436 0 0 0 98.76 521.77Z" fill="#e2574a"/>
<line x1="104.44" y1="522.26" x2="104.56" y2="490.2" stroke="#fff" stroke-width="0.6"/>
<line x1="105.91" y1="522.28" x2="106.7" y2="490.23" stroke="#fff" stroke-width="0.6"/>
<line x1="106.53" y1="522.29" x2="107.59" y2="490.26" stroke="#fff" stroke-width="0.6"/>
<line x1="107.2" y1="522.32" x2="108.57" y2="490.29" stroke="#fff" stroke-width="0.6"/>
<line x1="107.87" y1="522.35" x2="109.55" y2="490.34" stroke="#fff" stroke-width="0.6"/>
<line x1="111.23" y1="522.61" x2="114.44" y2="490.71" stroke="#fff" stroke-width="0.6"/>
<line x1="168.23" y1="563.76" x2="197.49" y2="550.67" stroke="#fff" stroke-width="0.6"/>
<line x1="171.02" y1="571.07" x2="201.56" y2="561.33" stroke="#fff" stroke-width="0.6"/>
<line x1="174.16" y1="587.38" x2="206.14" y2="585.09" stroke="#fff" stroke-width="0.6"/>
<line x1="37.27" y1="571.42" x2="6.68" y2="561.84" stroke="#fff" stroke-width="0.6"/>
<line x1="46.19" y1="552.97" x2="19.67" y2="534.96" stroke="#fff" stroke-width="0.6"/>
<line x1="55.12" y1="542.28" x2="32.69" y2="519.38" stroke="#fff" stroke-width="0.6"/>
<line x1="56.27" y1="541.18" x2="34.37" y2="517.78" stroke="#fff" stroke-width="0.6"/>
<line x1="60.25" y1="537.73" x2="40.16" y2="512.75" stroke="#fff" stroke-width="0.6"/>
<line x1="73.67" y1="529.25" x2="59.72" y2="500.39" stroke="#fff" stroke-width="0.6"/>
<line x1="78.83" y1="527" x2="67.24" y2="497.12" stroke="#fff" stroke-width="0.6"/>
<line x1="94.56" y1="522.92" x2="90.15" y2="491.17" stroke="#fff" stroke-width="0.6"/>
<line x1="96.02" y1="522.74" x2="92.28" y2="490.9" stroke="#fff" stroke-width="0.6"/>
<line x1="96.87" y1="522.64" x2="93.52" y2="490.76" stroke="#fff" stroke-width="0.6"/>
<line x1="97.84" y1="522.55" x2="94.94" y2="490.62" stroke="#fff" stroke-width="0.6"/>
<line x1="98.82" y1="522.46" x2="96.36" y2="490.5" stroke="#fff" stroke-width="0.6"/>
<line x1="103.77" y1="522.26" x2="103.58" y2="490.2" stroke="#fff" stroke-width="0.6"/>
<circle cx="104.2" cy="592.4" r="71.14359999999999" fill="#fff"/>
<path d="M104.4 591.7L104.69 536.04A55.660000000000004 55.660000000000004 0 0 1 110.02 536.32Z" fill="#559cbb"/>
<path d="M104.4 591.7L110.02 536.32A55.660000000000004 55.660000000000004 0 1 1 58.36 560.41Z" fill="#86d4a7"/>
<path d="M104.4 591.7L58.36 560.41A55.660000000000004 55.660000000000004 0 0 1 97.91 536.42Z" fill="#ecc97d"/>
<path d="M104.4 591.7L97.91 536.42A55.660000000000004 55.660000000000004 0 0 1 104.11 536.04Z" fill="#e2574a"/>
<circle cx="104.4" cy="591.7" r="16.7" fill="#fff"/>
<text x="158.2" y="529.65" font-size="7.2" text-anchor="middle" fill="#262626" stroke="#262626" stroke-width="0.18">n-Butylene</text>
<text x="188.7" y="578.25" font-size="7.2" text-anchor="middle" fill="#262626" stroke="#262626" stroke-width="0.18">Ethene</text>
<text x="103.2" y="678.95" font-size="7.2" text-anchor="middle" fill="#262626" stroke="#262626" stroke-width="0.18">Isoprene</text>
<text x="25.7" y="558.95" font-size="7.2" text-anchor="middle" fill="#262626" stroke="#262626" stroke-width="0.18">Propene</text>
<text x="34.1" y="536.05" font-size="7.2" text-anchor="middle" fill="#262626" stroke="#262626" stroke-width="0.18">Toluene</text>
<text x="52.6" y="520.45" font-size="7.2" text-anchor="middle" fill="#262626" stroke="#262626" stroke-width="0.18">m-Xylene</text>
<text x="79.5" y="508.45" font-size="7.2" text-anchor="middle" fill="#262626" stroke="#262626" stroke-width="0.18">Styrene</text>
<text x="100.6" y="526.5" font-size="6.6" font-weight="bold" text-anchor="middle" fill="#000" stroke="#000" stroke-width="0.22">Other</text>
<text x="99.9" y="535.2" font-size="6.6" font-weight="bold" text-anchor="middle" fill="#000" stroke="#000" stroke-width="0.22">0.1%</text>
<text x="116.7" y="539.6" font-size="6.6" font-weight="bold" text-anchor="middle" fill="#000" stroke="#000" stroke-width="0.22">Alkanes</text>
<text x="116.3" y="547.3" font-size="6.6" font-weight="bold" text-anchor="middle" fill="#000" stroke="#000" stroke-width="0.22">1.5%</text>
<text x="93.6" y="545.9" font-size="6.6" font-weight="bold" text-anchor="middle" fill="#000" stroke="#000" stroke-width="0.22">OVOCs</text>
<text x="94" y="554.9" font-size="6.6" font-weight="bold" text-anchor="middle" fill="#000" stroke="#000" stroke-width="0.22">2.2%</text>
<text x="86.7" y="564.1" font-size="7.7" font-weight="bold" text-anchor="middle" fill="#000" stroke="#000" stroke-width="0.22">Aromatics</text>
<text x="86.7" y="572.4" font-size="7.7" font-weight="bold" text-anchor="middle" fill="#000" stroke="#000" stroke-width="0.22">13.2%</text>
<text x="134.2" y="611.1" font-size="7.7" font-weight="bold" text-anchor="middle" fill="#000" stroke="#000" stroke-width="0.22">Alkenes</text>
<text x="133.7" y="619.6" font-size="7.7" font-weight="bold" text-anchor="middle" fill="#000" stroke="#000" stroke-width="0.22">83.0%</text>
<text x="105" y="591.1" font-size="6.2" font-weight="bold" text-anchor="middle" fill="#000" stroke="#000" stroke-width="0.22">Total MIR:</text>
<text x="105" y="599.7" font-size="6.2" font-weight="bold" text-anchor="middle" fill="#000" stroke="#000" stroke-width="0.22">28.02</text>
<text x="106.1" y="481.3" font-size="11.7" font-weight="bold" text-anchor="middle" fill="#000" stroke="#000" stroke-width="0.2">(g) PL-OFP in Summer</text>
<rect x="199.1" y="476" width="17.2" height="8" fill="#559cbb"/>
<text x="219.2" y="482.7" font-size="7.9" text-anchor="start" fill="#000" stroke="#000" stroke-width="0.18">Alkanes</text>
<rect x="199.1" y="486.03" width="17.2" height="8" fill="#86d4a7"/>
<text x="219.2" y="492.73" font-size="7.9" text-anchor="start" fill="#000" stroke="#000" stroke-width="0.18">Alkenes</text>
<rect x="199.1" y="496.06" width="17.2" height="8" fill="#bbe89f"/>
<text x="219.2" y="502.76" font-size="7.9" text-anchor="start" fill="#000" stroke="#000" stroke-width="0.18">Alkyne</text>
<rect x="199.1" y="506.09" width="17.2" height="8" fill="#e9fda9"/>
<text x="219.2" y="512.79" font-size="7.9" text-anchor="start" fill="#000" stroke="#000" stroke-width="0.18">Sulfide</text>
<rect x="199.1" y="516.12" width="17.2" height="8" fill="#ecc97d"/>
<text x="219.2" y="522.82" font-size="7.9" text-anchor="start" fill="#000" stroke="#000" stroke-width="0.18">Aromatics</text>
<rect x="199.1" y="526.15" width="17.2" height="8" fill="#ed8c58"/>
<text x="219.2" y="532.85" font-size="7.9" text-anchor="start" fill="#000" stroke="#000" stroke-width="0.18">Halogenated</text>
<rect x="199.1" y="536.18" width="17.2" height="8" fill="#e2574a"/>
<text x="219.2" y="542.88" font-size="7.9" text-anchor="start" fill="#000" stroke="#000" stroke-width="0.18">OVOCs</text>
<path d="M373.28 491A101.2 101.2 0 0 1 376.11 491.07L375 521.4A70.8436 70.8436 0 0 0 373.02 521.36Z" fill="#559cbb"/>
<path d="M375.84 491.06A101.2 101.2 0 0 1 379.37 491.24L377.28 521.52A70.8436 70.8436 0 0 0 374.81 521.4Z" fill="#559cbb"/>
<path d="M379.11 491.22A101.2 101.2 0 0 1 383.07 491.56L379.87 521.75A70.8436 70.8436 0 0 0 377.1 521.51Z" fill="#559cbb"/>
<path d="M382.8 491.54A101.2 101.2 0 0 1 386.75 492.02L382.44 522.07A70.8436 70.8436 0 0 0 379.68 521.73Z" fill="#559cbb"/>
<path d="M386.48 491.98A101.2 101.2 0 0 1 388.49 492.29L383.67 522.26A70.8436 70.8436 0 0 0 382.26 522.05Z" fill="#9ec8dd"/>
<path d="M388.23 492.25A101.2 101.2 0 0 1 390.23 492.58L384.88 522.47A70.8436 70.8436 0 0 0 383.48 522.23Z" fill="#9ec8dd"/>
<path d="M389.97 492.54A101.2 101.2 0 0 1 391.97 492.91L386.1 522.69A70.8436 70.8436 0 0 0 384.7 522.43Z" fill="#9ec8dd"/>
<path d="M391.71 492.86A101.2 101.2 0 0 1 393.87 493.3L387.43 522.97A70.8436 70.8436 0 0 0 385.92 522.66Z" fill="#9ec8dd"/>
<path d="M393.61 493.25A101.2 101.2 0 0 1 397.31 494.11L389.84 523.54A70.8436 70.8436 0 0 0 387.25 522.93Z" fill="#f2f7fa"/>
<path d="M397.05 494.05A101.2 101.2 0 0 1 466.53 555.03L438.29 566.18A70.8436 70.8436 0 0 0 389.66 523.49Z" fill="#86d4a7"/>
<path d="M466.43 554.78A101.2 101.2 0 0 1 463.01 637.28L435.83 623.75A70.8436 70.8436 0 0 0 438.22 566.01Z" fill="#86d4a7"/>
<path d="M463.12 637.04A101.2 101.2 0 0 1 277.39 627.06L305.89 616.6A70.8436 70.8436 0 0 0 435.91 623.59Z" fill="#86d4a7"/>
<path d="M277.49 627.31A101.2 101.2 0 0 1 277.03 626.06L305.64 615.91A70.8436 70.8436 0 0 0 305.96 616.78Z" fill="#86d4a7"/>
<path d="M277.12 626.31A101.2 101.2 0 0 1 276.68 625.06L305.4 615.21A70.8436 70.8436 0 0 0 305.7 616.08Z" fill="#86d4a7"/>
<path d="M276.77 625.31A101.2 101.2 0 0 1 273.11 572.63L302.89 578.5A70.8436 70.8436 0 0 0 305.46 615.38Z" fill="#ecc97d"/>
<path d="M273.06 572.89A101.2 101.2 0 0 1 273.89 569L303.44 575.96A70.8436 70.8436 0 0 0 302.86 578.68Z" fill="#ecc97d"/>
<path d="M273.83 569.26A101.2 101.2 0 0 1 278.08 555.52L306.37 566.52A70.8436 70.8436 0 0 0 303.4 576.14Z" fill="#ecc97d"/>
<path d="M277.99 555.77A101.2 101.2 0 0 1 302.8 518.73L323.68 540.77A70.8436 70.8436 0 0 0 306.31 566.7Z" fill="#ecc97d"/>
<path d="M302.61 518.91A101.2 101.2 0 0 1 320.35 505.41L335.97 531.44A70.8436 70.8436 0 0 0 323.54 540.9Z" fill="#ecc97d"/>
<path d="M320.13 505.55A101.2 101.2 0 0 1 323.57 503.56L338.22 530.15A70.8436 70.8436 0 0 0 335.81 531.54Z" fill="#ecc97d"/>
<path d="M323.34 503.69A101.2 101.2 0 0 1 326.69 501.91L340.4 528.99A70.8436 70.8436 0 0 0 338.05 530.24Z" fill="#ecc97d"/>
<path d="M326.46 502.03A101.2 101.2 0 0 1 329.87 500.37L342.63 527.92A70.8436 70.8436 0 0 0 340.24 529.08Z" fill="#ecc97d"/>
<path d="M329.63 500.48A101.2 101.2 0 0 1 339.7 496.43L349.51 525.16A70.8436 70.8436 0 0 0 342.46 527.99Z" fill="#ecc97d"/>
<path d="M339.45 496.51A101.2 101.2 0 0 1 343.07 495.34L351.86 524.4A70.8436 70.8436 0 0 0 349.34 525.22Z" fill="#ecc97d"/>
<path d="M342.81 495.42A101.2 101.2 0 0 1 346.46 494.38L354.24 523.72A70.8436 70.8436 0 0 0 351.69 524.45Z" fill="#ecc97d"/>
<path d="M346.21 494.45A101.2 101.2 0 0 1 349.38 493.65L356.28 523.21A70.8436 70.8436 0 0 0 354.06 523.77Z" fill="#ecc97d"/>
<path d="M349.12 493.71A101.2 101.2 0 0 1 352.83 492.91L358.7 522.69A70.8436 70.8436 0 0 0 356.1 523.26Z" fill="#e2574a"/>
<path d="M352.57 492.96A101.2 101.2 0 0 1 362.44 491.49L365.43 521.7A70.8436 70.8436 0 0 0 358.52 522.73Z" fill="#e2574a"/>
<path d="M362.17 491.52A101.2 101.2 0 0 1 363.49 491.39L366.16 521.63A70.8436 70.8436 0 0 0 365.24 521.72Z" fill="#e2574a"/>
<path d="M363.23 491.42A101.2 101.2 0 0 1 364.55 491.31L366.9 521.57A70.8436 70.8436 0 0 0 365.98 521.65Z" fill="#e2574a"/>
<path d="M364.28 491.33A101.2 101.2 0 0 1 372.31 491L372.34 521.36A70.8436 70.8436 0 0 0 366.72 521.58Z" fill="#e2574a"/>
<line x1="373.01" y1="522.06" x2="373.29" y2="490" stroke="#fff" stroke-width="0.6"/>
<line x1="374.79" y1="522.1" x2="375.88" y2="490.06" stroke="#fff" stroke-width="0.6"/>
<line x1="377.05" y1="522.21" x2="379.17" y2="490.22" stroke="#fff" stroke-width="0.6"/>
<line x1="379.61" y1="522.43" x2="382.91" y2="490.54" stroke="#fff" stroke-width="0.6"/>
<line x1="382.16" y1="522.74" x2="386.62" y2="490.99" stroke="#fff" stroke-width="0.6"/>
<line x1="383.37" y1="522.92" x2="388.39" y2="491.26" stroke="#fff" stroke-width="0.6"/>
<line x1="384.58" y1="523.12" x2="390.15" y2="491.55" stroke="#fff" stroke-width="0.6"/>
<line x1="385.78" y1="523.35" x2="391.9" y2="491.88" stroke="#fff" stroke-width="0.6"/>
<line x1="387.1" y1="523.61" x2="393.82" y2="492.27" stroke="#fff" stroke-width="0.6"/>
<line x1="389.49" y1="524.17" x2="397.3" y2="493.08" stroke="#fff" stroke-width="0.6"/>
<line x1="437.57" y1="566.26" x2="467.36" y2="554.41" stroke="#fff" stroke-width="0.6"/>
<line x1="435.28" y1="623.28" x2="464.02" y2="637.48" stroke="#fff" stroke-width="0.6"/>
<line x1="306.61" y1="616.54" x2="276.55" y2="627.66" stroke="#fff" stroke-width="0.6"/>
<line x1="306.36" y1="615.85" x2="276.18" y2="626.65" stroke="#fff" stroke-width="0.6"/>
<line x1="306.12" y1="615.15" x2="275.83" y2="625.64" stroke="#fff" stroke-width="0.6"/>
<line x1="303.55" y1="578.82" x2="272.08" y2="572.7" stroke="#fff" stroke-width="0.6"/>
<line x1="304.08" y1="576.3" x2="272.86" y2="569.04" stroke="#fff" stroke-width="0.6"/>
<line x1="306.96" y1="566.95" x2="277.05" y2="555.41" stroke="#fff" stroke-width="0.6"/>
<line x1="324.03" y1="541.4" x2="301.92" y2="518.19" stroke="#fff" stroke-width="0.6"/>
<line x1="336.17" y1="532.14" x2="319.61" y2="504.69" stroke="#fff" stroke-width="0.6"/>
<line x1="338.39" y1="530.85" x2="322.85" y2="502.81" stroke="#fff" stroke-width="0.6"/>
<line x1="340.56" y1="529.7" x2="326" y2="501.14" stroke="#fff" stroke-width="0.6"/>
<line x1="342.76" y1="528.63" x2="329.21" y2="499.58" stroke="#fff" stroke-width="0.6"/>
<line x1="349.56" y1="525.88" x2="339.13" y2="495.57" stroke="#fff" stroke-width="0.6"/>
<line x1="351.89" y1="525.12" x2="342.52" y2="494.47" stroke="#fff" stroke-width="0.6"/>
<line x1="354.25" y1="524.45" x2="345.95" y2="493.48" stroke="#fff" stroke-width="0.6"/>
<line x1="356.26" y1="523.94" x2="348.89" y2="492.74" stroke="#fff" stroke-width="0.6"/>
<line x1="358.66" y1="523.42" x2="352.37" y2="491.98" stroke="#fff" stroke-width="0.6"/>
<line x1="365.31" y1="522.42" x2="362.07" y2="490.52" stroke="#fff" stroke-width="0.6"/>
<line x1="366.04" y1="522.35" x2="363.14" y2="490.42" stroke="#fff" stroke-width="0.6"/>
<line x1="366.77" y1="522.28" x2="364.2" y2="490.33" stroke="#fff" stroke-width="0.6"/>
<line x1="372.16" y1="522.06" x2="372.04" y2="490" stroke="#fff" stroke-width="0.6"/>
<circle cx="372.4" cy="592.2" r="71.14359999999999" fill="#fff"/>
<path d="M372.6 591.2L372.79 535.54A55.660000000000004 55.660000000000004 0 0 1 385.78 537.12Z" fill="#559cbb"/>
<path d="M372.6 591.2L385.78 537.12A55.660000000000004 55.660000000000004 0 1 1 320 609.41Z" fill="#86d4a7"/>
<path d="M372.6 591.2L320 609.41A55.660000000000004 55.660000000000004 0 0 1 359.13 537.19Z" fill="#ecc97d"/>
<path d="M372.6 591.2L359.13 537.19A55.660000000000004 55.660000000000004 0 0 1 372.41 535.54Z" fill="#e2574a"/>
<circle cx="372.6" cy="591.2" r="16.7" fill="#fff"/>
<text x="364" y="503.35" font-size="7.2" text-anchor="middle" fill="#262626" stroke="#262626" stroke-width="0.18">Methyl methacrylate</text>
<text x="432.1" y="532.85" font-size="7.2" text-anchor="middle" fill="#262626" stroke="#262626" stroke-width="0.18">n-Butylene</text>
<text x="460.7" y="598.95" font-size="7.2" text-anchor="middle" fill="#262626" stroke="#262626" stroke-width="0.18">Ethene</text>
<text x="375.5" y="679.95" font-size="7.2" text-anchor="middle" fill="#262626" stroke="#262626" stroke-width="0.18">Isoprene</text>
<text x="286" y="600.95" font-size="7.2" text-anchor="middle" fill="#262626" stroke="#262626" stroke-width="0.18">Toluene</text>
<text x="288.9" y="570.25" font-size="7.2" text-anchor="middle" fill="#262626" stroke="#262626" stroke-width="0.18">p-Xylene</text>
<text x="300.3" y="546.65" font-size="7.2" text-anchor="middle" fill="#262626" stroke="#262626" stroke-width="0.18">m-Xylene</text>
<text x="318.6" y="525.25" font-size="7.2" text-anchor="middle" fill="#262626" stroke="#262626" stroke-width="0.18">o-Xylene</text>
<text x="369.9" y="534.5" font-size="6.6" font-weight="bold" text-anchor="middle" fill="#000" stroke="#000" stroke-width="0.22">Other</text>
<text x="369.7" y="543.1" font-size="6.6" font-weight="bold" text-anchor="middle" fill="#000" stroke="#000" stroke-width="0.22">0.3%</text>
<text x="389.4" y="539.5" font-size="6.6" font-weight="bold" text-anchor="middle" fill="#000" stroke="#000" stroke-width="0.22">Alkanes</text>
<text x="388.7" y="547.5" font-size="6.6" font-weight="bold" text-anchor="middle" fill="#000" stroke="#000" stroke-width="0.22">3.8%</text>
<text x="366.5" y="558.7" font-size="6.6" font-weight="bold" text-anchor="middle" fill="#000" stroke="#000" stroke-width="0.22">OVOCs</text>
<text x="366" y="567.1" font-size="6.6" font-weight="bold" text-anchor="middle" fill="#000" stroke="#000" stroke-width="0.22">3.9%</text>
<text x="337.5" y="579.5" font-size="7.7" font-weight="bold" text-anchor="middle" fill="#000" stroke="#000" stroke-width="0.22">Aromatics</text>
<text x="337" y="589.2" font-size="7.7" font-weight="bold" text-anchor="middle" fill="#000" stroke="#000" stroke-width="0.22">26.1%</text>
<text x="400" y="615.5" font-size="7.7" font-weight="bold" text-anchor="middle" fill="#000" stroke="#000" stroke-width="0.22">Alkenes</text>
<text x="399.4" y="625.1" font-size="7.7" font-weight="bold" text-anchor="middle" fill="#000" stroke="#000" stroke-width="0.22">65.9%</text>
<text x="372.1" y="591.3" font-size="6.2" font-weight="bold" text-anchor="middle" fill="#000" stroke="#000" stroke-width="0.22">Total MIR:</text>
<text x="372" y="599.4" font-size="6.2" font-weight="bold" text-anchor="middle" fill="#000" stroke="#000" stroke-width="0.22">8.72</text>
<text x="372" y="481.3" font-size="11.7" font-weight="bold" text-anchor="middle" fill="#000" stroke="#000" stroke-width="0.2">(h) PL-OFP in Winter</text>
<rect x="467.4" y="477" width="13.6" height="6" fill="#559cbb"/>
<text x="483.9" y="482.7" font-size="7.9" font-weight="bold" text-anchor="start" fill="#000" stroke="#000" stroke-width="0.18">Alkanes</text>
<rect x="467.4" y="487" width="13.6" height="6" fill="#86d4a7"/>
<text x="483.9" y="492.7" font-size="7.9" font-weight="bold" text-anchor="start" fill="#000" stroke="#000" stroke-width="0.18">Alkenes</text>
<rect x="467.4" y="497" width="13.6" height="6" fill="#bbe89f"/>
<text x="483.9" y="502.7" font-size="7.9" font-weight="bold" text-anchor="start" fill="#000" stroke="#000" stroke-width="0.18">Alkyne</text>
<rect x="467.4" y="507" width="13.6" height="6" fill="#e9fda9"/>
<text x="483.9" y="512.7" font-size="7.9" font-weight="bold" text-anchor="start" fill="#000" stroke="#000" stroke-width="0.18">Sulfide</text>
<rect x="467.4" y="517" width="13.6" height="6" fill="#ecc97d"/>
<text x="483.9" y="522.7" font-size="7.9" font-weight="bold" text-anchor="start" fill="#000" stroke="#000" stroke-width="0.18">Aromatics</text>
<rect x="467.4" y="527" width="13.6" height="6" fill="#ed8c58"/>
<text x="483.9" y="532.7" font-size="7.9" font-weight="bold" text-anchor="start" fill="#000" stroke="#000" stroke-width="0.18">Halogenated</text>
<rect x="467.4" y="537" width="13.6" height="6" fill="#e2574a"/>
<text x="483.9" y="542.7" font-size="7.9" font-weight="bold" text-anchor="start" fill="#000" stroke="#000" stroke-width="0.18">OVOCs</text>
<path d="M600.3 29.2C600.38 31.83 600.6 39.87 600.8 45C601 50.13 601.23 56.5 601.5 60C601.77 63.5 601.57 63.17 602.4 66C603.23 68.83 605.32 73 606.5 77C607.68 81 608.25 85.5 609.5 90C610.75 94.5 612.82 99.5 614 104C615.18 108.5 616.17 113 616.6 117C617.03 121 617.03 123.67 616.6 128C616.17 132.33 615.07 138.17 614 143C612.93 147.83 611.58 152.5 610.2 157C608.82 161.5 606.98 166.58 605.7 170C604.42 173.42 603.03 176.25 602.5 177.5L600 177.5L600 29.2Z" fill="#edf4fc"/>
<path d="M600.3 29.2C600.38 31.83 600.6 39.87 600.8 45C601 50.13 601.23 56.5 601.5 60C601.77 63.5 601.57 63.17 602.4 66C603.23 68.83 605.32 73 606.5 77C607.68 81 608.25 85.5 609.5 90C610.75 94.5 612.82 99.5 614 104C615.18 108.5 616.17 113 616.6 117C617.03 121 617.03 123.67 616.6 128C616.17 132.33 615.07 138.17 614 143C612.93 147.83 611.58 152.5 610.2 157C608.82 161.5 606.98 166.58 605.7 170C604.42 173.42 603.03 176.25 602.5 177.5" fill="none" stroke="#bcd5f4" stroke-width="0.6" stroke-dasharray="2.2 1.5"/>
<line x1="600" y1="29.2" x2="600" y2="177.5" stroke="#bcd5f4" stroke-width="0.6" stroke-dasharray="2.2 1.5"/>
<circle cx="600.4" cy="38.3" r="1.3" fill="#b2cff5"/>
<circle cx="600.2" cy="63.3" r="1.3" fill="#b2cff5"/>
<circle cx="601.9" cy="75.8" r="1.3" fill="#b2cff5"/>
<circle cx="603.2" cy="81" r="1.3" fill="#b2cff5"/>
<circle cx="600.9" cy="88.5" r="1.3" fill="#b2cff5"/>
<circle cx="605.5" cy="91.8" r="1.3" fill="#b2cff5"/>
<circle cx="600.2" cy="96.9" r="1.3" fill="#b2cff5"/>
<circle cx="605.7" cy="91.5" r="1.3" fill="#b2cff5"/>
<circle cx="600.5" cy="97.1" r="1.3" fill="#b2cff5"/>
<circle cx="604" cy="101.8" r="1.3" fill="#b2cff5"/>
<circle cx="605" cy="104.4" r="1.3" fill="#b2cff5"/>
<circle cx="602.4" cy="106.7" r="1.3" fill="#b2cff5"/>
<circle cx="603.3" cy="118.6" r="1.3" fill="#b2cff5"/>
<circle cx="607.8" cy="117.3" r="1.3" fill="#b2cff5"/>
<circle cx="610.8" cy="118.1" r="1.3" fill="#b2cff5"/>
<circle cx="612.3" cy="121.1" r="1.3" fill="#b2cff5"/>
<circle cx="604.8" cy="123.7" r="1.3" fill="#b2cff5"/>
<circle cx="605.7" cy="129.6" r="1.3" fill="#b2cff5"/>
<circle cx="608.9" cy="129.3" r="1.3" fill="#b2cff5"/>
<circle cx="611.2" cy="128.4" r="1.3" fill="#b2cff5"/>
<circle cx="613.8" cy="127.1" r="1.3" fill="#b2cff5"/>
<circle cx="606.6" cy="134" r="1.3" fill="#b2cff5"/>
<circle cx="604" cy="136.1" r="1.3" fill="#b2cff5"/>
<circle cx="609.3" cy="137.4" r="1.3" fill="#b2cff5"/>
<circle cx="601.1" cy="142.1" r="1.3" fill="#b2cff5"/>
<circle cx="602.4" cy="142.8" r="1.3" fill="#b2cff5"/>
<circle cx="607.3" cy="141.2" r="1.3" fill="#b2cff5"/>
<circle cx="613.1" cy="140.2" r="1.3" fill="#b2cff5"/>
<circle cx="604.6" cy="146.2" r="1.3" fill="#b2cff5"/>
<circle cx="601.5" cy="152.7" r="1.3" fill="#b2cff5"/>
<circle cx="603.1" cy="155.9" r="1.3" fill="#b2cff5"/>
<circle cx="600.2" cy="161.4" r="1.3" fill="#b2cff5"/>
<circle cx="601.1" cy="164.7" r="1.3" fill="#b2cff5"/>
<path d="M656.4 7.5C656.67 9.58 657.45 14.58 658 20C658.55 25.42 658.55 32.38 659.7 40C660.85 47.62 663.28 57.12 664.9 65.7C666.52 74.28 668.12 83.78 669.4 91.5C670.68 99.22 671.97 106.92 672.6 112C673.23 117.08 673.3 119 673.2 122C673.1 125 672.45 127 672 130C671.55 133 671.17 136.67 670.5 140C669.83 143.33 668.92 146.67 668 150C667.08 153.33 666 156.67 665 160C664 163.33 662.67 167 662 170C661.33 173 661.17 176.67 661 178L656 178L656 7.5Z" fill="#fbeef0"/>
<path d="M656.4 7.5C656.67 9.58 657.45 14.58 658 20C658.55 25.42 658.55 32.38 659.7 40C660.85 47.62 663.28 57.12 664.9 65.7C666.52 74.28 668.12 83.78 669.4 91.5C670.68 99.22 671.97 106.92 672.6 112C673.23 117.08 673.3 119 673.2 122C673.1 125 672.45 127 672 130C671.55 133 671.17 136.67 670.5 140C669.83 143.33 668.92 146.67 668 150C667.08 153.33 666 156.67 665 160C664 163.33 662.67 167 662 170C661.33 173 661.17 176.67 661 178" fill="none" stroke="#f3c4ca" stroke-width="0.6" stroke-dasharray="2.2 1.5"/>
<line x1="656" y1="7.5" x2="656" y2="178" stroke="#f3c4ca" stroke-width="0.6" stroke-dasharray="2.2 1.5"/>
<circle cx="655.9" cy="56.1" r="1.3" fill="#f2b6be"/>
<circle cx="657.8" cy="57.4" r="1.3" fill="#f2b6be"/>
<circle cx="658.7" cy="57.4" r="1.3" fill="#f2b6be"/>
<circle cx="657.8" cy="71.1" r="1.3" fill="#f2b6be"/>
<circle cx="656.9" cy="79.3" r="1.3" fill="#f2b6be"/>
<circle cx="660.4" cy="81.4" r="1.3" fill="#f2b6be"/>
<circle cx="656.1" cy="87.4" r="1.3" fill="#f2b6be"/>
<circle cx="659.5" cy="89.2" r="1.3" fill="#f2b6be"/>
<circle cx="657.4" cy="98.9" r="1.3" fill="#f2b6be"/>
<circle cx="658.4" cy="107.2" r="1.3" fill="#f2b6be"/>
<circle cx="662" cy="111" r="1.3" fill="#f2b6be"/>
<circle cx="660.2" cy="114.2" r="1.3" fill="#f2b6be"/>
<circle cx="666" cy="115.2" r="1.3" fill="#f2b6be"/>
<circle cx="667" cy="117.2" r="1.3" fill="#f2b6be"/>
<circle cx="669.5" cy="113.2" r="1.3" fill="#f2b6be"/>
<circle cx="661.2" cy="118.8" r="1.3" fill="#f2b6be"/>
<circle cx="664.5" cy="124.5" r="1.3" fill="#f2b6be"/>
<circle cx="655.8" cy="127.2" r="1.3" fill="#f2b6be"/>
<circle cx="658.5" cy="132.2" r="1.3" fill="#f2b6be"/>
<circle cx="659.5" cy="134.2" r="1.3" fill="#f2b6be"/>
<circle cx="663.8" cy="133.2" r="1.3" fill="#f2b6be"/>
<circle cx="668.8" cy="135.5" r="1.3" fill="#f2b6be"/>
<circle cx="657.8" cy="140" r="1.3" fill="#f2b6be"/>
<circle cx="662.8" cy="139.8" r="1.3" fill="#f2b6be"/>
<circle cx="667.8" cy="140.5" r="1.3" fill="#f2b6be"/>
<circle cx="656.8" cy="143.2" r="1.3" fill="#f2b6be"/>
<circle cx="665.2" cy="143.5" r="1.3" fill="#f2b6be"/>
<circle cx="661.5" cy="145" r="1.3" fill="#f2b6be"/>
<circle cx="658" cy="147.2" r="1.3" fill="#f2b6be"/>
<circle cx="657" cy="148" r="1.3" fill="#f2b6be"/>
<circle cx="660" cy="155.5" r="1.3" fill="#f2b6be"/>
<circle cx="656" cy="158.8" r="1.3" fill="#f2b6be"/>
<line x1="587.3" y1="63.4" x2="587.3" y2="105.62" stroke="#8a8a8a" stroke-width="0.8"/>
<line x1="587.3" y1="142.68" x2="587.3" y2="164.38" stroke="#8a8a8a" stroke-width="0.8"/>
<line x1="585" y1="63.4" x2="589.6" y2="63.4" stroke="#8a8a8a" stroke-width="0.8"/>
<line x1="585" y1="164.38" x2="589.6" y2="164.38" stroke="#8a8a8a" stroke-width="0.8"/>
<rect x="580" y="105.62" width="14.6" height="37.06" fill="#8fb9f0" stroke="#7a7a7a" stroke-width="0.7"/>
<line x1="580.4" y1="129.29" x2="594.2" y2="129.29" stroke="#ffffff" stroke-opacity="0.8" stroke-width="1.1"/>
<polygon points="587.3,119.57 588.19,121.94 590.72,122.06 588.74,123.64 589.42,126.08 587.3,124.68 585.18,126.08 585.86,123.64 583.88,122.06 586.41,121.94" fill="#454545"/>
<line x1="642.8" y1="56.39" x2="642.8" y2="94.27" stroke="#8a8a8a" stroke-width="0.8"/>
<line x1="642.8" y1="143.57" x2="642.8" y2="159.41" stroke="#8a8a8a" stroke-width="0.8"/>
<line x1="640.5" y1="56.39" x2="645.1" y2="56.39" stroke="#8a8a8a" stroke-width="0.8"/>
<line x1="640.5" y1="159.41" x2="645.1" y2="159.41" stroke="#8a8a8a" stroke-width="0.8"/>
<rect x="635.6" y="94.27" width="14.4" height="49.3" fill="#e8646e" stroke="#7a7a7a" stroke-width="0.7"/>
<line x1="636" y1="125.62" x2="649.6" y2="125.62" stroke="#ffffff" stroke-opacity="0.8" stroke-width="1.1"/>
<polygon points="642.8,111.41 643.69,113.78 646.22,113.9 644.24,115.48 644.92,117.92 642.8,116.52 640.68,117.92 641.36,115.48 639.38,113.9 641.91,113.78" fill="#454545"/>
<rect x="571.8" y="7.5" width="111.6" height="204" fill="none" stroke="#3c3c3c" stroke-width="1.1"/>
<line x1="568" y1="211.5" x2="571.8" y2="211.5" stroke="#3c3c3c" stroke-width="1"/>
<text x="564.8" y="214" font-size="8.6" font-weight="bold" text-anchor="end" fill="#000">-50</text>
<line x1="569.6" y1="194.5" x2="571.8" y2="194.5" stroke="#3c3c3c" stroke-width="1"/>
<line x1="568" y1="177.5" x2="571.8" y2="177.5" stroke="#3c3c3c" stroke-width="1"/>
<text x="564.8" y="180" font-size="8.6" font-weight="bold" text-anchor="end" fill="#000">0</text>
<line x1="569.6" y1="160.5" x2="571.8" y2="160.5" stroke="#3c3c3c" stroke-width="1"/>
<line x1="568" y1="143.5" x2="571.8" y2="143.5" stroke="#3c3c3c" stroke-width="1"/>
<text x="564.8" y="146" font-size="8.6" font-weight="bold" text-anchor="end" fill="#000">50</text>
<line x1="569.6" y1="126.5" x2="571.8" y2="126.5" stroke="#3c3c3c" stroke-width="1"/>
<line x1="568" y1="109.5" x2="571.8" y2="109.5" stroke="#3c3c3c" stroke-width="1"/>
<text x="564.8" y="112" font-size="8.6" font-weight="bold" text-anchor="end" fill="#000">100</text>
<line x1="569.6" y1="92.5" x2="571.8" y2="92.5" stroke="#3c3c3c" stroke-width="1"/>
<line x1="568" y1="75.5" x2="571.8" y2="75.5" stroke="#3c3c3c" stroke-width="1"/>
<text x="564.8" y="78" font-size="8.6" font-weight="bold" text-anchor="end" fill="#000">150</text>
<line x1="569.6" y1="58.5" x2="571.8" y2="58.5" stroke="#3c3c3c" stroke-width="1"/>
<line x1="568" y1="41.5" x2="571.8" y2="41.5" stroke="#3c3c3c" stroke-width="1"/>
<text x="564.8" y="44" font-size="8.6" font-weight="bold" text-anchor="end" fill="#000">200</text>
<line x1="569.6" y1="24.5" x2="571.8" y2="24.5" stroke="#3c3c3c" stroke-width="1"/>
<line x1="568" y1="7.5" x2="571.8" y2="7.5" stroke="#3c3c3c" stroke-width="1"/>
<text x="564.8" y="10" font-size="8.6" font-weight="bold" text-anchor="end" fill="#000">250</text>
<line x1="599.7" y1="211.5" x2="599.7" y2="215.7" stroke="#3c3c3c" stroke-width="1"/>
<text x="599.7" y="227.2" font-size="10.4" font-weight="bold" text-anchor="middle" fill="#000">Summer</text>
<line x1="655.9" y1="211.5" x2="655.9" y2="215.7" stroke="#3c3c3c" stroke-width="1"/>
<text x="655.4" y="227.2" font-size="10.4" font-weight="bold" text-anchor="middle" fill="#000">Winter</text>
<text x="581.8" y="25" font-size="12.4" font-weight="bold" text-anchor="start" fill="#000">(c)</text>
<text x="0" y="0" font-size="12.4" font-weight="bold" text-anchor="middle" transform="translate(547.5 109.5) rotate(-90)">Ob-OFP (ppbv)</text>
<path d="M600.3 276.3C600.38 279.42 600.6 290.32 600.8 295C601 299.68 600.87 300.93 601.5 304.4C602.13 307.87 603.23 311.98 604.6 315.8C605.97 319.62 607.98 323.48 609.7 327.3C611.42 331.12 613.47 335.08 614.9 338.7C616.33 342.32 617.68 346.12 618.3 349C618.92 351.88 618.78 353.68 618.6 356C618.42 358.32 617.82 360.6 617.2 362.9C616.58 365.2 615.95 366.93 614.9 369.8C613.85 372.67 612.13 377.05 610.9 380.1C609.67 383.15 608.65 385.23 607.5 388.1C606.35 390.97 604.97 394.25 604 397.3C603.03 400.35 602.23 403.25 601.7 406.4C601.17 409.55 600.95 414.57 600.8 416.2L600 416.2L600 276.3Z" fill="#edf4fc"/>
<path d="M600.3 276.3C600.38 279.42 600.6 290.32 600.8 295C601 299.68 600.87 300.93 601.5 304.4C602.13 307.87 603.23 311.98 604.6 315.8C605.97 319.62 607.98 323.48 609.7 327.3C611.42 331.12 613.47 335.08 614.9 338.7C616.33 342.32 617.68 346.12 618.3 349C618.92 351.88 618.78 353.68 618.6 356C618.42 358.32 617.82 360.6 617.2 362.9C616.58 365.2 615.95 366.93 614.9 369.8C613.85 372.67 612.13 377.05 610.9 380.1C609.67 383.15 608.65 385.23 607.5 388.1C606.35 390.97 604.97 394.25 604 397.3C603.03 400.35 602.23 403.25 601.7 406.4C601.17 409.55 600.95 414.57 600.8 416.2" fill="none" stroke="#bcd5f4" stroke-width="0.6" stroke-dasharray="2.2 1.5"/>
<line x1="600" y1="276.3" x2="600" y2="416.2" stroke="#bcd5f4" stroke-width="0.6" stroke-dasharray="2.2 1.5"/>
<circle cx="600.4" cy="284.9" r="1.3" fill="#b2cff5"/>
<circle cx="600.8" cy="297.3" r="1.3" fill="#b2cff5"/>
<circle cx="601.2" cy="307.6" r="1.3" fill="#b2cff5"/>
<circle cx="600.4" cy="315.8" r="1.3" fill="#b2cff5"/>
<circle cx="601.5" cy="325.9" r="1.3" fill="#b2cff5"/>
<circle cx="600.4" cy="334.4" r="1.3" fill="#b2cff5"/>
<circle cx="603.8" cy="333.6" r="1.3" fill="#b2cff5"/>
<circle cx="601.5" cy="340.1" r="1.3" fill="#b2cff5"/>
<circle cx="600.8" cy="342.7" r="1.3" fill="#b2cff5"/>
<circle cx="606.3" cy="342.7" r="1.3" fill="#b2cff5"/>
<circle cx="604.2" cy="346.5" r="1.3" fill="#b2cff5"/>
<circle cx="602.3" cy="349" r="1.3" fill="#b2cff5"/>
<circle cx="605.2" cy="351.5" r="1.3" fill="#b2cff5"/>
<circle cx="603.1" cy="355.1" r="1.3" fill="#b2cff5"/>
<circle cx="600.8" cy="360" r="1.3" fill="#b2cff5"/>
<circle cx="603.1" cy="362.7" r="1.3" fill="#b2cff5"/>
<circle cx="606.9" cy="362" r="1.3" fill="#b2cff5"/>
<circle cx="608.6" cy="363.5" r="1.3" fill="#b2cff5"/>
<circle cx="610.3" cy="364.1" r="1.3" fill="#b2cff5"/>
<circle cx="613.2" cy="361.2" r="1.3" fill="#b2cff5"/>
<circle cx="604.6" cy="365.4" r="1.3" fill="#b2cff5"/>
<circle cx="611.1" cy="366.1" r="1.3" fill="#b2cff5"/>
<circle cx="612.6" cy="367.5" r="1.3" fill="#b2cff5"/>
<circle cx="614.1" cy="368.9" r="1.3" fill="#b2cff5"/>
<circle cx="606.1" cy="370" r="1.3" fill="#b2cff5"/>
<circle cx="609.2" cy="372.1" r="1.3" fill="#b2cff5"/>
<circle cx="601.5" cy="376.9" r="1.3" fill="#b2cff5"/>
<circle cx="603.4" cy="376.4" r="1.3" fill="#b2cff5"/>
<circle cx="606.5" cy="378.9" r="1.3" fill="#b2cff5"/>
<circle cx="600.4" cy="385.8" r="1.3" fill="#b2cff5"/>
<circle cx="602.3" cy="386.7" r="1.3" fill="#b2cff5"/>
<path d="M656.3 247.2C656.33 248.1 656.25 245.7 656.5 252.6C656.75 259.5 656.93 280.45 657.8 288.6C658.67 296.75 660.3 296.78 661.7 301.5C663.1 306.22 664.7 311.72 666.2 316.9C667.7 322.08 669.73 329.17 670.7 332.6C671.67 336.03 671.47 334.72 672 337.5C672.53 340.28 673.48 345.18 673.9 349.3C674.32 353.42 674.72 357.7 674.5 362.2C674.28 366.7 673.57 371.8 672.6 376.3C671.63 380.8 669.98 384.9 668.7 389.2C667.42 393.5 666.22 397.6 664.9 402.1C663.58 406.6 661.48 413.85 660.8 416.2L656 416.2L656 247.2Z" fill="#fbeef0"/>
<path d="M656.3 247.2C656.33 248.1 656.25 245.7 656.5 252.6C656.75 259.5 656.93 280.45 657.8 288.6C658.67 296.75 660.3 296.78 661.7 301.5C663.1 306.22 664.7 311.72 666.2 316.9C667.7 322.08 669.73 329.17 670.7 332.6C671.67 336.03 671.47 334.72 672 337.5C672.53 340.28 673.48 345.18 673.9 349.3C674.32 353.42 674.72 357.7 674.5 362.2C674.28 366.7 673.57 371.8 672.6 376.3C671.63 380.8 669.98 384.9 668.7 389.2C667.42 393.5 666.22 397.6 664.9 402.1C663.58 406.6 661.48 413.85 660.8 416.2" fill="none" stroke="#f3c4ca" stroke-width="0.6" stroke-dasharray="2.2 1.5"/>
<line x1="656" y1="247.2" x2="656" y2="416.2" stroke="#f3c4ca" stroke-width="0.6" stroke-dasharray="2.2 1.5"/>
<circle cx="657.4" cy="309.5" r="1.3" fill="#f2b6be"/>
<circle cx="659.5" cy="309.5" r="1.3" fill="#f2b6be"/>
<circle cx="655.9" cy="312" r="1.3" fill="#f2b6be"/>
<circle cx="656.9" cy="315" r="1.3" fill="#f2b6be"/>
<circle cx="657.8" cy="321.4" r="1.3" fill="#f2b6be"/>
<circle cx="655.9" cy="337.3" r="1.3" fill="#f2b6be"/>
<circle cx="658.7" cy="340.6" r="1.3" fill="#f2b6be"/>
<circle cx="658.2" cy="346.7" r="1.3" fill="#f2b6be"/>
<circle cx="657.4" cy="349" r="1.3" fill="#f2b6be"/>
<circle cx="656.9" cy="355.1" r="1.3" fill="#f2b6be"/>
<circle cx="660" cy="357.7" r="1.3" fill="#f2b6be"/>
<circle cx="660.8" cy="361.5" r="1.3" fill="#f2b6be"/>
<circle cx="667.4" cy="363.2" r="1.3" fill="#f2b6be"/>
<circle cx="668.1" cy="364.7" r="1.3" fill="#f2b6be"/>
<circle cx="663.8" cy="368" r="1.3" fill="#f2b6be"/>
<circle cx="669.8" cy="368.4" r="1.3" fill="#f2b6be"/>
<circle cx="655.9" cy="373.1" r="1.3" fill="#f2b6be"/>
<circle cx="662" cy="374.8" r="1.3" fill="#f2b6be"/>
<circle cx="666.8" cy="374.4" r="1.3" fill="#f2b6be"/>
<circle cx="657.4" cy="377.4" r="1.3" fill="#f2b6be"/>
<circle cx="659.5" cy="377.4" r="1.3" fill="#f2b6be"/>
<circle cx="662.3" cy="376.3" r="1.3" fill="#f2b6be"/>
<circle cx="657.4" cy="384.3" r="1.3" fill="#f2b6be"/>
<circle cx="658.7" cy="385.6" r="1.3" fill="#f2b6be"/>
<circle cx="663.3" cy="383.4" r="1.3" fill="#f2b6be"/>
<circle cx="665.1" cy="386.4" r="1.3" fill="#f2b6be"/>
<circle cx="669" cy="384.7" r="1.3" fill="#f2b6be"/>
<circle cx="656.9" cy="389.5" r="1.3" fill="#f2b6be"/>
<circle cx="655.9" cy="391.1" r="1.3" fill="#f2b6be"/>
<line x1="587.3" y1="307.6" x2="587.3" y2="342.39" stroke="#8a8a8a" stroke-width="0.8"/>
<line x1="587.3" y1="367.4" x2="587.3" y2="386.98" stroke="#8a8a8a" stroke-width="0.8"/>
<line x1="585" y1="307.6" x2="589.6" y2="307.6" stroke="#8a8a8a" stroke-width="0.8"/>
<line x1="585" y1="386.98" x2="589.6" y2="386.98" stroke="#8a8a8a" stroke-width="0.8"/>
<rect x="580" y="342.39" width="14.6" height="25" fill="#8fb9f0" stroke="#7a7a7a" stroke-width="0.7"/>
<line x1="580.4" y1="361.98" x2="594.2" y2="361.98" stroke="#ffffff" stroke-opacity="0.8" stroke-width="1.1"/>
<polygon points="587.3,349.81 588.19,352.19 590.72,352.3 588.74,353.88 589.42,356.32 587.3,354.92 585.18,356.32 585.86,353.88 583.88,352.3 586.41,352.19" fill="#454545"/>
<line x1="642.8" y1="309.58" x2="642.8" y2="343.97" stroke="#8a8a8a" stroke-width="0.8"/>
<line x1="642.8" y1="383.89" x2="642.8" y2="390.89" stroke="#8a8a8a" stroke-width="0.8"/>
<line x1="640.5" y1="309.58" x2="645.1" y2="309.58" stroke="#8a8a8a" stroke-width="0.8"/>
<line x1="640.5" y1="390.89" x2="645.1" y2="390.89" stroke="#8a8a8a" stroke-width="0.8"/>
<rect x="635.6" y="343.97" width="14.4" height="39.93" fill="#e8646e" stroke="#7a7a7a" stroke-width="0.7"/>
<line x1="636" y1="368.21" x2="649.6" y2="368.21" stroke="#ffffff" stroke-opacity="0.8" stroke-width="1.1"/>
<polygon points="642.8,354.47 643.69,356.85 646.22,356.96 644.24,358.54 644.92,360.98 642.8,359.58 640.68,360.98 641.36,358.54 639.38,356.96 641.91,356.85" fill="#454545"/>
<rect x="571.8" y="241.5" width="111.6" height="204" fill="none" stroke="#3c3c3c" stroke-width="1.1"/>
<line x1="568" y1="445.5" x2="571.8" y2="445.5" stroke="#3c3c3c" stroke-width="1"/>
<text x="564.8" y="448" font-size="8.6" font-weight="bold" text-anchor="end" fill="#000">-50</text>
<line x1="569.6" y1="430.93" x2="571.8" y2="430.93" stroke="#3c3c3c" stroke-width="1"/>
<line x1="568" y1="416.36" x2="571.8" y2="416.36" stroke="#3c3c3c" stroke-width="1"/>
<text x="564.8" y="418.86" font-size="8.6" font-weight="bold" text-anchor="end" fill="#000">0</text>
<line x1="569.6" y1="401.79" x2="571.8" y2="401.79" stroke="#3c3c3c" stroke-width="1"/>
<line x1="568" y1="387.21" x2="571.8" y2="387.21" stroke="#3c3c3c" stroke-width="1"/>
<text x="564.8" y="389.71" font-size="8.6" font-weight="bold" text-anchor="end" fill="#000">50</text>
<line x1="569.6" y1="372.64" x2="571.8" y2="372.64" stroke="#3c3c3c" stroke-width="1"/>
<line x1="568" y1="358.07" x2="571.8" y2="358.07" stroke="#3c3c3c" stroke-width="1"/>
<text x="564.8" y="360.57" font-size="8.6" font-weight="bold" text-anchor="end" fill="#000">100</text>
<line x1="569.6" y1="343.5" x2="571.8" y2="343.5" stroke="#3c3c3c" stroke-width="1"/>
<line x1="568" y1="328.93" x2="571.8" y2="328.93" stroke="#3c3c3c" stroke-width="1"/>
<text x="564.8" y="331.43" font-size="8.6" font-weight="bold" text-anchor="end" fill="#000">150</text>
<line x1="569.6" y1="314.36" x2="571.8" y2="314.36" stroke="#3c3c3c" stroke-width="1"/>
<line x1="568" y1="299.79" x2="571.8" y2="299.79" stroke="#3c3c3c" stroke-width="1"/>
<text x="564.8" y="302.29" font-size="8.6" font-weight="bold" text-anchor="end" fill="#000">200</text>
<line x1="569.6" y1="285.21" x2="571.8" y2="285.21" stroke="#3c3c3c" stroke-width="1"/>
<line x1="568" y1="270.64" x2="571.8" y2="270.64" stroke="#3c3c3c" stroke-width="1"/>
<text x="564.8" y="273.14" font-size="8.6" font-weight="bold" text-anchor="end" fill="#000">250</text>
<line x1="569.6" y1="256.07" x2="571.8" y2="256.07" stroke="#3c3c3c" stroke-width="1"/>
<line x1="568" y1="241.5" x2="571.8" y2="241.5" stroke="#3c3c3c" stroke-width="1"/>
<text x="564.8" y="244" font-size="8.6" font-weight="bold" text-anchor="end" fill="#000">300</text>
<line x1="599.7" y1="445.5" x2="599.7" y2="449.7" stroke="#3c3c3c" stroke-width="1"/>
<text x="599.7" y="461.2" font-size="10.4" font-weight="bold" text-anchor="middle" fill="#000">Summer</text>
<line x1="655.9" y1="445.5" x2="655.9" y2="449.7" stroke="#3c3c3c" stroke-width="1"/>
<text x="655.4" y="461.2" font-size="10.4" font-weight="bold" text-anchor="middle" fill="#000">Winter</text>
<text x="581.8" y="259" font-size="12.4" font-weight="bold" text-anchor="start" fill="#000">(f)</text>
<text x="0" y="0" font-size="12.4" font-weight="bold" text-anchor="middle" transform="translate(547.5 343.5) rotate(-90)">In-OFP (ppbv)</text>
<path d="M600.4 507.1C600.53 510.68 600.6 522.72 601.2 528.6C601.8 534.48 602.77 537.62 604 542.4C605.23 547.18 607.1 552.7 608.6 557.3C610.1 561.9 611.55 565.65 613 570C614.45 574.35 616.38 578.73 617.3 583.4C618.22 588.07 618.5 593.15 618.5 598C618.5 602.85 617.92 607.45 617.3 612.5C616.68 617.55 615.92 624.05 614.8 628.3C613.68 632.55 611.82 634.35 610.6 638C609.38 641.65 608.02 648.17 607.5 650.2L600 650.2L600 507.1Z" fill="#edf4fc"/>
<path d="M600.4 507.1C600.53 510.68 600.6 522.72 601.2 528.6C601.8 534.48 602.77 537.62 604 542.4C605.23 547.18 607.1 552.7 608.6 557.3C610.1 561.9 611.55 565.65 613 570C614.45 574.35 616.38 578.73 617.3 583.4C618.22 588.07 618.5 593.15 618.5 598C618.5 602.85 617.92 607.45 617.3 612.5C616.68 617.55 615.92 624.05 614.8 628.3C613.68 632.55 611.82 634.35 610.6 638C609.38 641.65 608.02 648.17 607.5 650.2" fill="none" stroke="#bcd5f4" stroke-width="0.6" stroke-dasharray="2.2 1.5"/>
<line x1="600" y1="507.1" x2="600" y2="650.2" stroke="#bcd5f4" stroke-width="0.6" stroke-dasharray="2.2 1.5"/>
<circle cx="600.4" cy="524.1" r="1.3" fill="#b2cff5"/>
<circle cx="600.6" cy="534.1" r="1.3" fill="#b2cff5"/>
<circle cx="601.2" cy="541" r="1.3" fill="#b2cff5"/>
<circle cx="601.7" cy="547.9" r="1.3" fill="#b2cff5"/>
<circle cx="600.4" cy="554.8" r="1.3" fill="#b2cff5"/>
<circle cx="602.3" cy="555.2" r="1.3" fill="#b2cff5"/>
<circle cx="601.7" cy="567.8" r="1.3" fill="#b2cff5"/>
<circle cx="600.9" cy="580.9" r="1.3" fill="#b2cff5"/>
<circle cx="600.3" cy="586" r="1.3" fill="#b2cff5"/>
<circle cx="601.8" cy="589.2" r="1.3" fill="#b2cff5"/>
<circle cx="603" cy="589.2" r="1.3" fill="#b2cff5"/>
<circle cx="600.3" cy="602.2" r="1.3" fill="#b2cff5"/>
<circle cx="600.9" cy="606.1" r="1.3" fill="#b2cff5"/>
<circle cx="602.3" cy="609.1" r="1.3" fill="#b2cff5"/>
<circle cx="607.5" cy="609.5" r="1.3" fill="#b2cff5"/>
<circle cx="601.5" cy="612.8" r="1.3" fill="#b2cff5"/>
<circle cx="609.1" cy="612.8" r="1.3" fill="#b2cff5"/>
<circle cx="612.4" cy="611.6" r="1.3" fill="#b2cff5"/>
<circle cx="606.3" cy="618.4" r="1.3" fill="#b2cff5"/>
<circle cx="611.2" cy="618" r="1.3" fill="#b2cff5"/>
<circle cx="603.9" cy="621.6" r="1.3" fill="#b2cff5"/>
<circle cx="613.6" cy="623.2" r="1.3" fill="#b2cff5"/>
<circle cx="600.2" cy="629.8" r="1.3" fill="#b2cff5"/>
<circle cx="601.65" cy="629.8" r="1.3" fill="#b2cff5"/>
<circle cx="603.1" cy="629.8" r="1.3" fill="#b2cff5"/>
<circle cx="604.55" cy="629.8" r="1.3" fill="#b2cff5"/>
<circle cx="606" cy="629.8" r="1.3" fill="#b2cff5"/>
<circle cx="607.45" cy="629.8" r="1.3" fill="#b2cff5"/>
<circle cx="608.9" cy="629.8" r="1.3" fill="#b2cff5"/>
<circle cx="610.35" cy="629.8" r="1.3" fill="#b2cff5"/>
<circle cx="611.8" cy="629.8" r="1.3" fill="#b2cff5"/>
<circle cx="613.25" cy="629.8" r="1.3" fill="#b2cff5"/>
<circle cx="614.7" cy="629.8" r="1.3" fill="#b2cff5"/>
<path d="M656.3 587.3C656.83 589.65 657.9 597.8 659.5 601.4C661.1 605 663.85 606.75 665.9 608.9C667.95 611.05 670.37 612.42 671.8 614.3C673.23 616.18 674.32 618.42 674.5 620.2C674.68 621.98 673.8 623.3 672.9 625C672 626.7 670.62 628.62 669.1 630.4C667.58 632.18 665.4 633.75 663.8 635.7C662.2 637.65 660.67 639.68 659.5 642.1C658.33 644.52 657.25 648.85 656.8 650.2L656 650.2L656 587.3Z" fill="#fbeef0"/>
<path d="M656.3 587.3C656.83 589.65 657.9 597.8 659.5 601.4C661.1 605 663.85 606.75 665.9 608.9C667.95 611.05 670.37 612.42 671.8 614.3C673.23 616.18 674.32 618.42 674.5 620.2C674.68 621.98 673.8 623.3 672.9 625C672 626.7 670.62 628.62 669.1 630.4C667.58 632.18 665.4 633.75 663.8 635.7C662.2 637.65 660.67 639.68 659.5 642.1C658.33 644.52 657.25 648.85 656.8 650.2" fill="none" stroke="#f3c4ca" stroke-width="0.6" stroke-dasharray="2.2 1.5"/>
<line x1="656" y1="587.3" x2="656" y2="650.2" stroke="#f3c4ca" stroke-width="0.6" stroke-dasharray="2.2 1.5"/>
<circle cx="656.1" cy="587.3" r="1.3" fill="#f2b6be"/>
<circle cx="656.1" cy="599.5" r="1.3" fill="#f2b6be"/>
<circle cx="656.5" cy="604.9" r="1.3" fill="#f2b6be"/>
<circle cx="657.1" cy="608.1" r="1.3" fill="#f2b6be"/>
<circle cx="657.1" cy="609.2" r="1.3" fill="#f2b6be"/>
<circle cx="656.1" cy="613" r="1.3" fill="#f2b6be"/>
<circle cx="657.9" cy="613" r="1.3" fill="#f2b6be"/>
<circle cx="661.4" cy="610.9" r="1.3" fill="#f2b6be"/>
<circle cx="662.7" cy="613.8" r="1.3" fill="#f2b6be"/>
<circle cx="664.6" cy="613.4" r="1.3" fill="#f2b6be"/>
<circle cx="666.5" cy="611.6" r="1.3" fill="#f2b6be"/>
<circle cx="659.3" cy="619.9" r="1.3" fill="#f2b6be"/>
<circle cx="662.2" cy="622.9" r="1.3" fill="#f2b6be"/>
<circle cx="663.6" cy="623.1" r="1.3" fill="#f2b6be"/>
<circle cx="669.4" cy="623.4" r="1.3" fill="#f2b6be"/>
<circle cx="657.1" cy="626.3" r="1.3" fill="#f2b6be"/>
<circle cx="659.7" cy="625.9" r="1.3" fill="#f2b6be"/>
<circle cx="665.4" cy="625.5" r="1.3" fill="#f2b6be"/>
<circle cx="666.5" cy="627.1" r="1.3" fill="#f2b6be"/>
<circle cx="667.5" cy="628" r="1.3" fill="#f2b6be"/>
<circle cx="656.2" cy="629.8" r="1.3" fill="#f2b6be"/>
<circle cx="657.65" cy="629.8" r="1.3" fill="#f2b6be"/>
<circle cx="659.1" cy="629.8" r="1.3" fill="#f2b6be"/>
<circle cx="660.55" cy="629.8" r="1.3" fill="#f2b6be"/>
<circle cx="662" cy="629.8" r="1.3" fill="#f2b6be"/>
<circle cx="663.45" cy="629.8" r="1.3" fill="#f2b6be"/>
<circle cx="664.9" cy="629.8" r="1.3" fill="#f2b6be"/>
<circle cx="666.35" cy="629.8" r="1.3" fill="#f2b6be"/>
<circle cx="667.8" cy="629.8" r="1.3" fill="#f2b6be"/>
<circle cx="669.25" cy="629.8" r="1.3" fill="#f2b6be"/>
<circle cx="670.7" cy="629.8" r="1.3" fill="#f2b6be"/>
<line x1="587.3" y1="524.24" x2="587.3" y2="583.7" stroke="#8a8a8a" stroke-width="0.8"/>
<line x1="587.3" y1="629.5" x2="587.3" y2="629.5" stroke="#8a8a8a" stroke-width="0.8"/>
<line x1="585" y1="524.24" x2="589.6" y2="524.24" stroke="#8a8a8a" stroke-width="0.8"/>
<line x1="585" y1="629.5" x2="589.6" y2="629.5" stroke="#8a8a8a" stroke-width="0.8"/>
<rect x="580" y="583.7" width="14.6" height="45.8" fill="#8fb9f0" stroke="#7a7a7a" stroke-width="0.7"/>
<line x1="580.4" y1="612.98" x2="594.2" y2="612.98" stroke="#ffffff" stroke-opacity="0.8" stroke-width="1.1"/>
<polygon points="587.3,597.54 588.19,599.92 590.72,600.03 588.74,601.61 589.42,604.06 587.3,602.66 585.18,604.06 585.86,601.61 583.88,600.03 586.41,599.92" fill="#454545"/>
<line x1="642.8" y1="599.41" x2="642.8" y2="613.28" stroke="#8a8a8a" stroke-width="0.8"/>
<line x1="642.8" y1="629.5" x2="642.8" y2="629.5" stroke="#8a8a8a" stroke-width="0.8"/>
<line x1="640.5" y1="599.41" x2="645.1" y2="599.41" stroke="#8a8a8a" stroke-width="0.8"/>
<line x1="640.5" y1="629.5" x2="645.1" y2="629.5" stroke="#8a8a8a" stroke-width="0.8"/>
<rect x="635.6" y="613.28" width="14.4" height="16.22" fill="#e8646e" stroke="#7a7a7a" stroke-width="0.7"/>
<line x1="636" y1="625.22" x2="649.6" y2="625.22" stroke="#ffffff" stroke-opacity="0.8" stroke-width="1.1"/>
<polygon points="642.8,617.33 643.69,619.71 646.22,619.82 644.24,621.4 644.92,623.84 642.8,622.44 640.68,623.84 641.36,621.4 639.38,619.82 641.91,619.71" fill="#454545"/>
<rect x="571.8" y="476.5" width="111.6" height="204" fill="none" stroke="#3c3c3c" stroke-width="1.1"/>
<line x1="568" y1="680.5" x2="571.8" y2="680.5" stroke="#3c3c3c" stroke-width="1"/>
<text x="564.8" y="683" font-size="8.6" font-weight="bold" text-anchor="end" fill="#000">-50</text>
<line x1="569.6" y1="655" x2="571.8" y2="655" stroke="#3c3c3c" stroke-width="1"/>
<line x1="568" y1="629.5" x2="571.8" y2="629.5" stroke="#3c3c3c" stroke-width="1"/>
<text x="564.8" y="632" font-size="8.6" font-weight="bold" text-anchor="end" fill="#000">0</text>
<line x1="569.6" y1="604" x2="571.8" y2="604" stroke="#3c3c3c" stroke-width="1"/>
<line x1="568" y1="578.5" x2="571.8" y2="578.5" stroke="#3c3c3c" stroke-width="1"/>
<text x="564.8" y="581" font-size="8.6" font-weight="bold" text-anchor="end" fill="#000">50</text>
<line x1="569.6" y1="553" x2="571.8" y2="553" stroke="#3c3c3c" stroke-width="1"/>
<line x1="568" y1="527.5" x2="571.8" y2="527.5" stroke="#3c3c3c" stroke-width="1"/>
<text x="564.8" y="530" font-size="8.6" font-weight="bold" text-anchor="end" fill="#000">100</text>
<line x1="569.6" y1="502" x2="571.8" y2="502" stroke="#3c3c3c" stroke-width="1"/>
<line x1="568" y1="476.5" x2="571.8" y2="476.5" stroke="#3c3c3c" stroke-width="1"/>
<text x="564.8" y="479" font-size="8.6" font-weight="bold" text-anchor="end" fill="#000">150</text>
<line x1="599.7" y1="680.5" x2="599.7" y2="684.7" stroke="#3c3c3c" stroke-width="1"/>
<text x="599.7" y="696.2" font-size="10.4" font-weight="bold" text-anchor="middle" fill="#000">Summer</text>
<line x1="655.9" y1="680.5" x2="655.9" y2="684.7" stroke="#3c3c3c" stroke-width="1"/>
<text x="655.4" y="696.2" font-size="10.4" font-weight="bold" text-anchor="middle" fill="#000">Winter</text>
<text x="581.8" y="494" font-size="12.4" font-weight="bold" text-anchor="start" fill="#000">(i)</text>
<text x="0" y="0" font-size="12.4" font-weight="bold" text-anchor="middle" transform="translate(547.5 578.5) rotate(-90)">PL-OFP (ppbv)</text>
</svg></body></html>
